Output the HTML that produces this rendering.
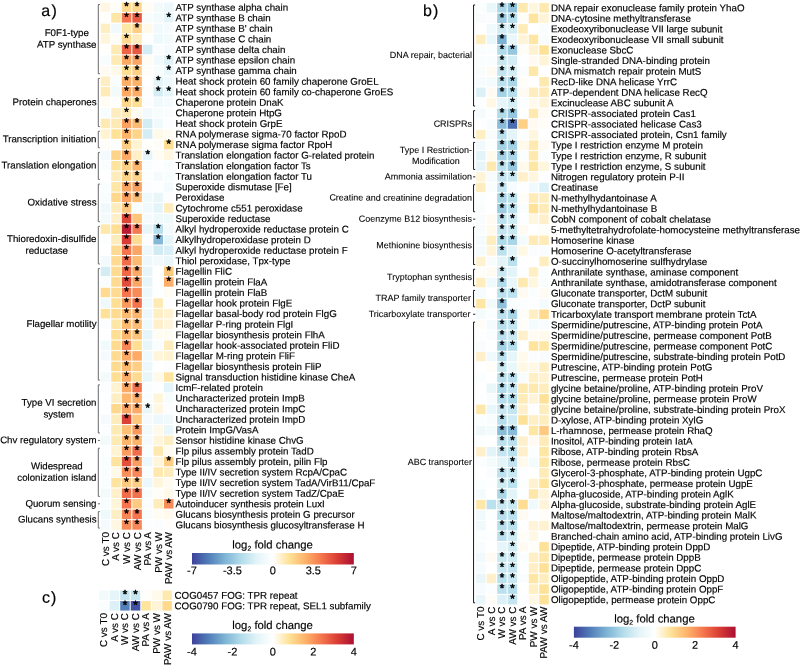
<!DOCTYPE html>
<html><head><meta charset="utf-8"><title>heatmap</title>
<style>html,body{margin:0;padding:0;background:#fff}svg{display:block;will-change:transform}text{font-family:"Liberation Sans",sans-serif;fill:#000;text-rendering:geometricPrecision;stroke:#000;stroke-width:0.16px}text.gb{stroke-width:0.08px}text.st{stroke-width:0.55px;stroke-linejoin:round}</style>
</head><body>
<svg width="800" height="666" viewBox="0 0 800 666">
<rect width="800" height="666" fill="#fff"/>
<rect x="100.70" y="2.50" width="9.5" height="9.5" fill="#fff7e1"/>
<rect x="111.25" y="2.50" width="9.5" height="9.5" fill="#fffdf8"/>
<rect x="121.80" y="2.50" width="9.5" height="9.5" fill="#fedb90"/>
<rect x="132.35" y="2.50" width="9.5" height="9.5" fill="#fed88d"/>
<rect x="142.90" y="2.50" width="9.5" height="9.5" fill="#fffcf4"/>
<rect x="153.45" y="2.50" width="9.5" height="9.5" fill="#f3fafc"/>
<rect x="164.00" y="2.50" width="9.5" height="9.5" fill="#ecf8fb"/>
<text x="126.55" y="10.10" font-size="11.5" text-anchor="middle" class="st" transform="rotate(0.035,126.55,10.10)">*</text>
<text x="137.10" y="10.10" font-size="11.5" text-anchor="middle" class="st" transform="rotate(0.035,137.10,10.10)">*</text>
<text x="175.55" y="10.65" font-size="9.78" transform="rotate(0.035,175.55,10.65)">ATP synthase alpha chain</text>
<rect x="100.70" y="13.06" width="9.5" height="9.5" fill="#fffefb"/>
<rect x="111.25" y="13.06" width="9.5" height="9.5" fill="#fee6a6"/>
<rect x="121.80" y="13.06" width="9.5" height="9.5" fill="#f5764e"/>
<rect x="132.35" y="13.06" width="9.5" height="9.5" fill="#e75941"/>
<rect x="142.90" y="13.06" width="9.5" height="9.5" fill="#f7fcfd"/>
<rect x="153.45" y="13.06" width="9.5" height="9.5" fill="#f3fafc"/>
<rect x="164.00" y="13.06" width="9.5" height="9.5" fill="#e4f5f9"/>
<text x="126.55" y="20.66" font-size="11.5" text-anchor="middle" class="st" transform="rotate(0.035,126.55,20.66)">*</text>
<text x="137.10" y="20.66" font-size="11.5" text-anchor="middle" class="st" transform="rotate(0.035,137.10,20.66)">*</text>
<text x="168.75" y="20.66" font-size="11.5" text-anchor="middle" class="st" transform="rotate(0.035,168.75,20.66)">*</text>
<text x="175.55" y="21.21" font-size="9.78" transform="rotate(0.035,175.55,21.21)">ATP synthase B chain</text>
<rect x="100.70" y="23.63" width="9.5" height="9.5" fill="#feeec3"/>
<rect x="111.25" y="23.63" width="9.5" height="9.5" fill="#f0f9fc"/>
<rect x="121.80" y="23.63" width="9.5" height="9.5" fill="#fee6a6"/>
<rect x="132.35" y="23.63" width="9.5" height="9.5" fill="#fece84"/>
<rect x="142.90" y="23.63" width="9.5" height="9.5" fill="#fff9e9"/>
<rect x="153.45" y="23.63" width="9.5" height="9.5" fill="#f0f9fc"/>
<rect x="164.00" y="23.63" width="9.5" height="9.5" fill="#f5fbfd"/>
<text x="137.10" y="31.23" font-size="11.5" text-anchor="middle" class="st" transform="rotate(0.035,137.10,31.23)">*</text>
<text x="175.55" y="31.78" font-size="9.78" transform="rotate(0.035,175.55,31.78)">ATP synthase B&#x27; chain</text>
<rect x="100.70" y="34.20" width="9.5" height="9.5" fill="#fff5da"/>
<rect x="111.25" y="34.20" width="9.5" height="9.5" fill="#fffdf8"/>
<rect x="121.80" y="34.20" width="9.5" height="9.5" fill="#fedb90"/>
<rect x="132.35" y="34.20" width="9.5" height="9.5" fill="#feecbc"/>
<rect x="142.90" y="34.20" width="9.5" height="9.5" fill="#fdfeff"/>
<rect x="153.45" y="34.20" width="9.5" height="9.5" fill="#eef9fb"/>
<rect x="164.00" y="34.20" width="9.5" height="9.5" fill="#f3fafc"/>
<text x="126.55" y="41.80" font-size="11.5" text-anchor="middle" class="st" transform="rotate(0.035,126.55,41.80)">*</text>
<text x="175.55" y="42.34" font-size="9.78" transform="rotate(0.035,175.55,42.34)">ATP synthase C chain</text>
<rect x="100.70" y="44.76" width="9.5" height="9.5" fill="#fffefb"/>
<rect x="111.25" y="44.76" width="9.5" height="9.5" fill="#feeab4"/>
<rect x="121.80" y="44.76" width="9.5" height="9.5" fill="#ed6547"/>
<rect x="132.35" y="44.76" width="9.5" height="9.5" fill="#e75941"/>
<rect x="142.90" y="44.76" width="9.5" height="9.5" fill="#d4edf4"/>
<rect x="153.45" y="44.76" width="9.5" height="9.5" fill="#f9fdfe"/>
<rect x="164.00" y="44.76" width="9.5" height="9.5" fill="#f5fbfd"/>
<text x="126.55" y="52.36" font-size="11.5" text-anchor="middle" class="st" transform="rotate(0.035,126.55,52.36)">*</text>
<text x="137.10" y="52.36" font-size="11.5" text-anchor="middle" class="st" transform="rotate(0.035,137.10,52.36)">*</text>
<text x="175.55" y="52.91" font-size="9.78" transform="rotate(0.035,175.55,52.91)">ATP synthase delta chain</text>
<rect x="100.70" y="55.32" width="9.5" height="9.5" fill="#f7fcfd"/>
<rect x="111.25" y="55.32" width="9.5" height="9.5" fill="#feeab4"/>
<rect x="121.80" y="55.32" width="9.5" height="9.5" fill="#fcaa66"/>
<rect x="132.35" y="55.32" width="9.5" height="9.5" fill="#fba664"/>
<rect x="142.90" y="55.32" width="9.5" height="9.5" fill="#fffcf4"/>
<rect x="153.45" y="55.32" width="9.5" height="9.5" fill="#f0f9fc"/>
<rect x="164.00" y="55.32" width="9.5" height="9.5" fill="#def2f7"/>
<text x="126.55" y="62.92" font-size="11.5" text-anchor="middle" class="st" transform="rotate(0.035,126.55,62.92)">*</text>
<text x="137.10" y="62.92" font-size="11.5" text-anchor="middle" class="st" transform="rotate(0.035,137.10,62.92)">*</text>
<text x="168.75" y="62.92" font-size="11.5" text-anchor="middle" class="st" transform="rotate(0.035,168.75,62.92)">*</text>
<text x="175.55" y="63.47" font-size="9.78" transform="rotate(0.035,175.55,63.47)">ATP synthase epsilon chain</text>
<rect x="100.70" y="65.89" width="9.5" height="9.5" fill="#fffbf0"/>
<rect x="111.25" y="65.89" width="9.5" height="9.5" fill="#fff9e9"/>
<rect x="121.80" y="65.89" width="9.5" height="9.5" fill="#fedf94"/>
<rect x="132.35" y="65.89" width="9.5" height="9.5" fill="#fed187"/>
<rect x="142.90" y="65.89" width="9.5" height="9.5" fill="#fffdf8"/>
<rect x="153.45" y="65.89" width="9.5" height="9.5" fill="#f7fcfd"/>
<rect x="164.00" y="65.89" width="9.5" height="9.5" fill="#eaf7fa"/>
<text x="126.55" y="73.49" font-size="11.5" text-anchor="middle" class="st" transform="rotate(0.035,126.55,73.49)">*</text>
<text x="137.10" y="73.49" font-size="11.5" text-anchor="middle" class="st" transform="rotate(0.035,137.10,73.49)">*</text>
<text x="168.75" y="73.49" font-size="11.5" text-anchor="middle" class="st" transform="rotate(0.035,168.75,73.49)">*</text>
<text x="175.55" y="74.04" font-size="9.78" transform="rotate(0.035,175.55,74.04)">ATP synthase gamma chain</text>
<rect x="100.70" y="76.45" width="9.5" height="9.5" fill="#feeec3"/>
<rect x="111.25" y="76.45" width="9.5" height="9.5" fill="#f9fdfe"/>
<rect x="121.80" y="76.45" width="9.5" height="9.5" fill="#fdae68"/>
<rect x="132.35" y="76.45" width="9.5" height="9.5" fill="#fdb36a"/>
<rect x="142.90" y="76.45" width="9.5" height="9.5" fill="#ffffff"/>
<rect x="153.45" y="76.45" width="9.5" height="9.5" fill="#e4f5f9"/>
<rect x="164.00" y="76.45" width="9.5" height="9.5" fill="#eef9fb"/>
<text x="126.55" y="84.05" font-size="11.5" text-anchor="middle" class="st" transform="rotate(0.035,126.55,84.05)">*</text>
<text x="137.10" y="84.05" font-size="11.5" text-anchor="middle" class="st" transform="rotate(0.035,137.10,84.05)">*</text>
<text x="158.20" y="84.05" font-size="11.5" text-anchor="middle" class="st" transform="rotate(0.035,158.20,84.05)">*</text>
<text x="175.55" y="84.61" font-size="9.78" transform="rotate(0.035,175.55,84.61)">Heat shock protein 60 family chaperone GroEL</text>
<rect x="100.70" y="87.02" width="9.5" height="9.5" fill="#feebb8"/>
<rect x="111.25" y="87.02" width="9.5" height="9.5" fill="#f3fafc"/>
<rect x="121.80" y="87.02" width="9.5" height="9.5" fill="#fcaa66"/>
<rect x="132.35" y="87.02" width="9.5" height="9.5" fill="#fdae68"/>
<rect x="142.90" y="87.02" width="9.5" height="9.5" fill="#fcfefe"/>
<rect x="153.45" y="87.02" width="9.5" height="9.5" fill="#d4edf4"/>
<rect x="164.00" y="87.02" width="9.5" height="9.5" fill="#e6f5f9"/>
<text x="126.55" y="94.62" font-size="11.5" text-anchor="middle" class="st" transform="rotate(0.035,126.55,94.62)">*</text>
<text x="137.10" y="94.62" font-size="11.5" text-anchor="middle" class="st" transform="rotate(0.035,137.10,94.62)">*</text>
<text x="158.20" y="94.62" font-size="11.5" text-anchor="middle" class="st" transform="rotate(0.035,158.20,94.62)">*</text>
<text x="168.75" y="94.62" font-size="11.5" text-anchor="middle" class="st" transform="rotate(0.035,168.75,94.62)">*</text>
<text x="175.55" y="95.17" font-size="9.78" transform="rotate(0.035,175.55,95.17)">Heat shock protein 60 family co-chaperone GroES</text>
<rect x="100.70" y="97.58" width="9.5" height="9.5" fill="#fffcf4"/>
<rect x="111.25" y="97.58" width="9.5" height="9.5" fill="#ffffff"/>
<rect x="121.80" y="97.58" width="9.5" height="9.5" fill="#fed88d"/>
<rect x="132.35" y="97.58" width="9.5" height="9.5" fill="#fedf94"/>
<rect x="142.90" y="97.58" width="9.5" height="9.5" fill="#fbfdfe"/>
<rect x="153.45" y="97.58" width="9.5" height="9.5" fill="#f0f9fc"/>
<rect x="164.00" y="97.58" width="9.5" height="9.5" fill="#f5fbfd"/>
<text x="126.55" y="105.18" font-size="11.5" text-anchor="middle" class="st" transform="rotate(0.035,126.55,105.18)">*</text>
<text x="137.10" y="105.18" font-size="11.5" text-anchor="middle" class="st" transform="rotate(0.035,137.10,105.18)">*</text>
<text x="175.55" y="105.73" font-size="9.78" transform="rotate(0.035,175.55,105.73)">Chaperone protein DnaK</text>
<rect x="100.70" y="108.15" width="9.5" height="9.5" fill="#f7fcfd"/>
<rect x="111.25" y="108.15" width="9.5" height="9.5" fill="#feedc0"/>
<rect x="121.80" y="108.15" width="9.5" height="9.5" fill="#feeab4"/>
<rect x="132.35" y="108.15" width="9.5" height="9.5" fill="#fffbf0"/>
<rect x="142.90" y="108.15" width="9.5" height="9.5" fill="#f3fafc"/>
<rect x="153.45" y="108.15" width="9.5" height="9.5" fill="#f7fcfd"/>
<rect x="164.00" y="108.15" width="9.5" height="9.5" fill="#f9fdfe"/>
<text x="126.55" y="115.75" font-size="11.5" text-anchor="middle" class="st" transform="rotate(0.035,126.55,115.75)">*</text>
<text x="175.55" y="116.30" font-size="9.78" transform="rotate(0.035,175.55,116.30)">Chaperone protein HtpG</text>
<rect x="100.70" y="118.71" width="9.5" height="9.5" fill="#feeab4"/>
<rect x="111.25" y="118.71" width="9.5" height="9.5" fill="#feeab4"/>
<rect x="121.80" y="118.71" width="9.5" height="9.5" fill="#fba162"/>
<rect x="132.35" y="118.71" width="9.5" height="9.5" fill="#fdba71"/>
<rect x="142.90" y="118.71" width="9.5" height="9.5" fill="#d4edf4"/>
<rect x="153.45" y="118.71" width="9.5" height="9.5" fill="#f0f9fc"/>
<rect x="164.00" y="118.71" width="9.5" height="9.5" fill="#fbfdfe"/>
<text x="126.55" y="126.31" font-size="11.5" text-anchor="middle" class="st" transform="rotate(0.035,126.55,126.31)">*</text>
<text x="137.10" y="126.31" font-size="11.5" text-anchor="middle" class="st" transform="rotate(0.035,137.10,126.31)">*</text>
<text x="175.55" y="126.86" font-size="9.78" transform="rotate(0.035,175.55,126.86)">Heat shock protein GrpE</text>
<rect x="100.70" y="129.28" width="9.5" height="9.5" fill="#fff3d2"/>
<rect x="111.25" y="129.28" width="9.5" height="9.5" fill="#fee297"/>
<rect x="121.80" y="129.28" width="9.5" height="9.5" fill="#fdb36a"/>
<rect x="132.35" y="129.28" width="9.5" height="9.5" fill="#fed48a"/>
<rect x="142.90" y="129.28" width="9.5" height="9.5" fill="#d4edf4"/>
<rect x="153.45" y="129.28" width="9.5" height="9.5" fill="#fff9e9"/>
<rect x="164.00" y="129.28" width="9.5" height="9.5" fill="#fffcf4"/>
<text x="126.55" y="136.88" font-size="11.5" text-anchor="middle" class="st" transform="rotate(0.035,126.55,136.88)">*</text>
<text x="175.55" y="137.43" font-size="9.78" transform="rotate(0.035,175.55,137.43)">RNA polymerase sigma-70 factor RpoD</text>
<rect x="100.70" y="139.84" width="9.5" height="9.5" fill="#fffdf8"/>
<rect x="111.25" y="139.84" width="9.5" height="9.5" fill="#fcfefe"/>
<rect x="121.80" y="139.84" width="9.5" height="9.5" fill="#fece84"/>
<rect x="132.35" y="139.84" width="9.5" height="9.5" fill="#fff3d2"/>
<rect x="142.90" y="139.84" width="9.5" height="9.5" fill="#fffefb"/>
<rect x="153.45" y="139.84" width="9.5" height="9.5" fill="#fffdf8"/>
<rect x="164.00" y="139.84" width="9.5" height="9.5" fill="#fedf94"/>
<text x="126.55" y="147.44" font-size="11.5" text-anchor="middle" class="st" transform="rotate(0.035,126.55,147.44)">*</text>
<text x="168.75" y="147.44" font-size="11.5" text-anchor="middle" class="st" transform="rotate(0.035,168.75,147.44)">*</text>
<text x="175.55" y="148.00" font-size="9.78" transform="rotate(0.035,175.55,148.00)">RNA polymerase sigma factor RpoH</text>
<rect x="100.70" y="150.41" width="9.5" height="9.5" fill="#f3fafc"/>
<rect x="111.25" y="150.41" width="9.5" height="9.5" fill="#fed48a"/>
<rect x="121.80" y="150.41" width="9.5" height="9.5" fill="#fcaa66"/>
<rect x="132.35" y="150.41" width="9.5" height="9.5" fill="#feefc7"/>
<rect x="142.90" y="150.41" width="9.5" height="9.5" fill="#e6f5f9"/>
<rect x="153.45" y="150.41" width="9.5" height="9.5" fill="#fffcf4"/>
<rect x="164.00" y="150.41" width="9.5" height="9.5" fill="#fff7e1"/>
<text x="126.55" y="158.01" font-size="11.5" text-anchor="middle" class="st" transform="rotate(0.035,126.55,158.01)">*</text>
<text x="147.65" y="158.01" font-size="11.5" text-anchor="middle" class="st" transform="rotate(0.035,147.65,158.01)">*</text>
<text x="175.55" y="158.56" font-size="9.78" transform="rotate(0.035,175.55,158.56)">Translation elongation factor G-related protein</text>
<rect x="100.70" y="160.97" width="9.5" height="9.5" fill="#f9fdfe"/>
<rect x="111.25" y="160.97" width="9.5" height="9.5" fill="#fee49e"/>
<rect x="121.80" y="160.97" width="9.5" height="9.5" fill="#fed187"/>
<rect x="132.35" y="160.97" width="9.5" height="9.5" fill="#fdb66e"/>
<rect x="142.90" y="160.97" width="9.5" height="9.5" fill="#f9fdfe"/>
<rect x="153.45" y="160.97" width="9.5" height="9.5" fill="#fdfeff"/>
<rect x="164.00" y="160.97" width="9.5" height="9.5" fill="#f9fdfe"/>
<text x="126.55" y="168.57" font-size="11.5" text-anchor="middle" class="st" transform="rotate(0.035,126.55,168.57)">*</text>
<text x="137.10" y="168.57" font-size="11.5" text-anchor="middle" class="st" transform="rotate(0.035,137.10,168.57)">*</text>
<text x="175.55" y="169.12" font-size="9.78" transform="rotate(0.035,175.55,169.12)">Translation elongation factor Ts</text>
<rect x="100.70" y="171.54" width="9.5" height="9.5" fill="#ffffff"/>
<rect x="111.25" y="171.54" width="9.5" height="9.5" fill="#feecbc"/>
<rect x="121.80" y="171.54" width="9.5" height="9.5" fill="#fed48a"/>
<rect x="132.35" y="171.54" width="9.5" height="9.5" fill="#fed48a"/>
<rect x="142.90" y="171.54" width="9.5" height="9.5" fill="#fcfefe"/>
<rect x="153.45" y="171.54" width="9.5" height="9.5" fill="#f5fbfd"/>
<rect x="164.00" y="171.54" width="9.5" height="9.5" fill="#f7fcfd"/>
<text x="126.55" y="179.14" font-size="11.5" text-anchor="middle" class="st" transform="rotate(0.035,126.55,179.14)">*</text>
<text x="137.10" y="179.14" font-size="11.5" text-anchor="middle" class="st" transform="rotate(0.035,137.10,179.14)">*</text>
<text x="175.55" y="179.69" font-size="9.78" transform="rotate(0.035,175.55,179.69)">Translation elongation factor Tu</text>
<rect x="100.70" y="182.10" width="9.5" height="9.5" fill="#f9fdfe"/>
<rect x="111.25" y="182.10" width="9.5" height="9.5" fill="#fee6a6"/>
<rect x="121.80" y="182.10" width="9.5" height="9.5" fill="#fba664"/>
<rect x="132.35" y="182.10" width="9.5" height="9.5" fill="#fba162"/>
<rect x="142.90" y="182.10" width="9.5" height="9.5" fill="#fbfdfe"/>
<rect x="153.45" y="182.10" width="9.5" height="9.5" fill="#fdfeff"/>
<rect x="164.00" y="182.10" width="9.5" height="9.5" fill="#f5fbfd"/>
<text x="126.55" y="189.70" font-size="11.5" text-anchor="middle" class="st" transform="rotate(0.035,126.55,189.70)">*</text>
<text x="137.10" y="189.70" font-size="11.5" text-anchor="middle" class="st" transform="rotate(0.035,137.10,189.70)">*</text>
<text x="175.55" y="190.25" font-size="9.78" transform="rotate(0.035,175.55,190.25)">Superoxide dismutase [Fe]</text>
<rect x="100.70" y="192.67" width="9.5" height="9.5" fill="#f7fcfd"/>
<rect x="111.25" y="192.67" width="9.5" height="9.5" fill="#fed88d"/>
<rect x="121.80" y="192.67" width="9.5" height="9.5" fill="#fba162"/>
<rect x="132.35" y="192.67" width="9.5" height="9.5" fill="#fdbd74"/>
<rect x="142.90" y="192.67" width="9.5" height="9.5" fill="#eef9fb"/>
<rect x="153.45" y="192.67" width="9.5" height="9.5" fill="#e8f6fa"/>
<rect x="164.00" y="192.67" width="9.5" height="9.5" fill="#fbfdfe"/>
<text x="126.55" y="200.27" font-size="11.5" text-anchor="middle" class="st" transform="rotate(0.035,126.55,200.27)">*</text>
<text x="137.10" y="200.27" font-size="11.5" text-anchor="middle" class="st" transform="rotate(0.035,137.10,200.27)">*</text>
<text x="175.55" y="200.82" font-size="9.78" transform="rotate(0.035,175.55,200.82)">Peroxidase</text>
<rect x="100.70" y="203.23" width="9.5" height="9.5" fill="#eef9fb"/>
<rect x="111.25" y="203.23" width="9.5" height="9.5" fill="#feecbc"/>
<rect x="121.80" y="203.23" width="9.5" height="9.5" fill="#fec77d"/>
<rect x="132.35" y="203.23" width="9.5" height="9.5" fill="#f9fdfe"/>
<rect x="142.90" y="203.23" width="9.5" height="9.5" fill="#f0f9fc"/>
<rect x="153.45" y="203.23" width="9.5" height="9.5" fill="#e4f5f9"/>
<rect x="164.00" y="203.23" width="9.5" height="9.5" fill="#feecbc"/>
<text x="126.55" y="210.83" font-size="11.5" text-anchor="middle" class="st" transform="rotate(0.035,126.55,210.83)">*</text>
<text x="175.55" y="211.38" font-size="9.78" transform="rotate(0.035,175.55,211.38)">Cytochrome c551 peroxidase</text>
<rect x="100.70" y="213.80" width="9.5" height="9.5" fill="#f3fafc"/>
<rect x="111.25" y="213.80" width="9.5" height="9.5" fill="#fff0cb"/>
<rect x="121.80" y="213.80" width="9.5" height="9.5" fill="#dd4538"/>
<rect x="132.35" y="213.80" width="9.5" height="9.5" fill="#fdc47a"/>
<rect x="142.90" y="213.80" width="9.5" height="9.5" fill="#f5fbfd"/>
<rect x="153.45" y="213.80" width="9.5" height="9.5" fill="#eef9fb"/>
<rect x="164.00" y="213.80" width="9.5" height="9.5" fill="#eef9fb"/>
<text x="126.55" y="221.40" font-size="11.5" text-anchor="middle" class="st" transform="rotate(0.035,126.55,221.40)">*</text>
<text x="175.55" y="221.95" font-size="9.78" transform="rotate(0.035,175.55,221.95)">Superoxide reductase</text>
<rect x="100.70" y="224.36" width="9.5" height="9.5" fill="#fee8ad"/>
<rect x="111.25" y="224.36" width="9.5" height="9.5" fill="#fedf94"/>
<rect x="121.80" y="224.36" width="9.5" height="9.5" fill="#b81c33"/>
<rect x="132.35" y="224.36" width="9.5" height="9.5" fill="#f57a50"/>
<rect x="142.90" y="224.36" width="9.5" height="9.5" fill="#e8f6fa"/>
<rect x="153.45" y="224.36" width="9.5" height="9.5" fill="#b7dfec"/>
<rect x="164.00" y="224.36" width="9.5" height="9.5" fill="#f3fafc"/>
<text x="126.55" y="231.96" font-size="11.5" text-anchor="middle" class="st" transform="rotate(0.035,126.55,231.96)">*</text>
<text x="137.10" y="231.96" font-size="11.5" text-anchor="middle" class="st" transform="rotate(0.035,137.10,231.96)">*</text>
<text x="158.20" y="231.96" font-size="11.5" text-anchor="middle" class="st" transform="rotate(0.035,158.20,231.96)">*</text>
<text x="175.55" y="232.51" font-size="9.78" transform="rotate(0.035,175.55,232.51)">Alkyl hydroperoxide reductase protein C</text>
<rect x="100.70" y="234.93" width="9.5" height="9.5" fill="#fcfefe"/>
<rect x="111.25" y="234.93" width="9.5" height="9.5" fill="#feecbc"/>
<rect x="121.80" y="234.93" width="9.5" height="9.5" fill="#d93c34"/>
<rect x="132.35" y="234.93" width="9.5" height="9.5" fill="#fedb90"/>
<rect x="142.90" y="234.93" width="9.5" height="9.5" fill="#fbfdfe"/>
<rect x="153.45" y="234.93" width="9.5" height="9.5" fill="#84b8d7"/>
<rect x="164.00" y="234.93" width="9.5" height="9.5" fill="#e6f5f9"/>
<text x="126.55" y="242.53" font-size="11.5" text-anchor="middle" class="st" transform="rotate(0.035,126.55,242.53)">*</text>
<text x="158.20" y="242.53" font-size="11.5" text-anchor="middle" class="st" transform="rotate(0.035,158.20,242.53)">*</text>
<text x="175.55" y="243.08" font-size="9.78" transform="rotate(0.035,175.55,243.08)">Alkylhydroperoxidase protein D</text>
<rect x="100.70" y="245.49" width="9.5" height="9.5" fill="#ffffff"/>
<rect x="111.25" y="245.49" width="9.5" height="9.5" fill="#fedb90"/>
<rect x="121.80" y="245.49" width="9.5" height="9.5" fill="#f5764e"/>
<rect x="132.35" y="245.49" width="9.5" height="9.5" fill="#fba664"/>
<rect x="142.90" y="245.49" width="9.5" height="9.5" fill="#ecf8fb"/>
<rect x="153.45" y="245.49" width="9.5" height="9.5" fill="#d0ebf3"/>
<rect x="164.00" y="245.49" width="9.5" height="9.5" fill="#dbf0f6"/>
<text x="126.55" y="253.09" font-size="11.5" text-anchor="middle" class="st" transform="rotate(0.035,126.55,253.09)">*</text>
<text x="175.55" y="253.64" font-size="9.78" transform="rotate(0.035,175.55,253.64)">Alkyl hydroperoxide reductase protein F</text>
<rect x="100.70" y="256.06" width="9.5" height="9.5" fill="#f3fafc"/>
<rect x="111.25" y="256.06" width="9.5" height="9.5" fill="#fedb90"/>
<rect x="121.80" y="256.06" width="9.5" height="9.5" fill="#f16e4b"/>
<rect x="132.35" y="256.06" width="9.5" height="9.5" fill="#fdba71"/>
<rect x="142.90" y="256.06" width="9.5" height="9.5" fill="#ecf8fb"/>
<rect x="153.45" y="256.06" width="9.5" height="9.5" fill="#f3fafc"/>
<rect x="164.00" y="256.06" width="9.5" height="9.5" fill="#eaf7fa"/>
<text x="126.55" y="263.66" font-size="11.5" text-anchor="middle" class="st" transform="rotate(0.035,126.55,263.66)">*</text>
<text x="175.55" y="264.21" font-size="9.78" transform="rotate(0.035,175.55,264.21)">Thiol peroxidase, Tpx-type</text>
<rect x="100.70" y="266.62" width="9.5" height="9.5" fill="#d4edf4"/>
<rect x="111.25" y="266.62" width="9.5" height="9.5" fill="#fedb90"/>
<rect x="121.80" y="266.62" width="9.5" height="9.5" fill="#ef6949"/>
<rect x="132.35" y="266.62" width="9.5" height="9.5" fill="#fcaa66"/>
<rect x="142.90" y="266.62" width="9.5" height="9.5" fill="#e6f5f9"/>
<rect x="153.45" y="266.62" width="9.5" height="9.5" fill="#ffffff"/>
<rect x="164.00" y="266.62" width="9.5" height="9.5" fill="#fec97f"/>
<text x="126.55" y="274.23" font-size="11.5" text-anchor="middle" class="st" transform="rotate(0.035,126.55,274.23)">*</text>
<text x="137.10" y="274.23" font-size="11.5" text-anchor="middle" class="st" transform="rotate(0.035,137.10,274.23)">*</text>
<text x="168.75" y="274.23" font-size="11.5" text-anchor="middle" class="st" transform="rotate(0.035,168.75,274.23)">*</text>
<text x="175.55" y="274.77" font-size="9.78" transform="rotate(0.035,175.55,274.77)">Flagellin FliC</text>
<rect x="100.70" y="277.19" width="9.5" height="9.5" fill="#f9fdfe"/>
<rect x="111.25" y="277.19" width="9.5" height="9.5" fill="#fedb90"/>
<rect x="121.80" y="277.19" width="9.5" height="9.5" fill="#e14d3b"/>
<rect x="132.35" y="277.19" width="9.5" height="9.5" fill="#fba664"/>
<rect x="142.90" y="277.19" width="9.5" height="9.5" fill="#e6f5f9"/>
<rect x="153.45" y="277.19" width="9.5" height="9.5" fill="#ffffff"/>
<rect x="164.00" y="277.19" width="9.5" height="9.5" fill="#fdae68"/>
<text x="126.55" y="284.79" font-size="11.5" text-anchor="middle" class="st" transform="rotate(0.035,126.55,284.79)">*</text>
<text x="137.10" y="284.79" font-size="11.5" text-anchor="middle" class="st" transform="rotate(0.035,137.10,284.79)">*</text>
<text x="168.75" y="284.79" font-size="11.5" text-anchor="middle" class="st" transform="rotate(0.035,168.75,284.79)">*</text>
<text x="175.55" y="285.34" font-size="9.78" transform="rotate(0.035,175.55,285.34)">Flagellin protein FlaA</text>
<rect x="100.70" y="287.75" width="9.5" height="9.5" fill="#fedb90"/>
<rect x="111.25" y="287.75" width="9.5" height="9.5" fill="#fedb90"/>
<rect x="121.80" y="287.75" width="9.5" height="9.5" fill="#f5764e"/>
<rect x="132.35" y="287.75" width="9.5" height="9.5" fill="#f88c58"/>
<rect x="142.90" y="287.75" width="9.5" height="9.5" fill="#ecf8fb"/>
<rect x="153.45" y="287.75" width="9.5" height="9.5" fill="#fdfeff"/>
<rect x="164.00" y="287.75" width="9.5" height="9.5" fill="#fffcf4"/>
<text x="126.55" y="295.36" font-size="11.5" text-anchor="middle" class="st" transform="rotate(0.035,126.55,295.36)">*</text>
<text x="175.55" y="295.90" font-size="9.78" transform="rotate(0.035,175.55,295.90)">Flagellin protein FlaB</text>
<rect x="100.70" y="298.32" width="9.5" height="9.5" fill="#eef9fb"/>
<rect x="111.25" y="298.32" width="9.5" height="9.5" fill="#fedf94"/>
<rect x="121.80" y="298.32" width="9.5" height="9.5" fill="#f9995e"/>
<rect x="132.35" y="298.32" width="9.5" height="9.5" fill="#f3724c"/>
<rect x="142.90" y="298.32" width="9.5" height="9.5" fill="#f0f9fc"/>
<rect x="153.45" y="298.32" width="9.5" height="9.5" fill="#feeab4"/>
<rect x="164.00" y="298.32" width="9.5" height="9.5" fill="#fdfeff"/>
<text x="126.55" y="305.92" font-size="11.5" text-anchor="middle" class="st" transform="rotate(0.035,126.55,305.92)">*</text>
<text x="137.10" y="305.92" font-size="11.5" text-anchor="middle" class="st" transform="rotate(0.035,137.10,305.92)">*</text>
<text x="175.55" y="306.47" font-size="9.78" transform="rotate(0.035,175.55,306.47)">Flagellar hook protein FlgE</text>
<rect x="100.70" y="308.88" width="9.5" height="9.5" fill="#fee297"/>
<rect x="111.25" y="308.88" width="9.5" height="9.5" fill="#fedb90"/>
<rect x="121.80" y="308.88" width="9.5" height="9.5" fill="#fdba71"/>
<rect x="132.35" y="308.88" width="9.5" height="9.5" fill="#fdb66e"/>
<rect x="142.90" y="308.88" width="9.5" height="9.5" fill="#ecf8fb"/>
<rect x="153.45" y="308.88" width="9.5" height="9.5" fill="#feeec3"/>
<rect x="164.00" y="308.88" width="9.5" height="9.5" fill="#fff3d2"/>
<text x="126.55" y="316.49" font-size="11.5" text-anchor="middle" class="st" transform="rotate(0.035,126.55,316.49)">*</text>
<text x="137.10" y="316.49" font-size="11.5" text-anchor="middle" class="st" transform="rotate(0.035,137.10,316.49)">*</text>
<text x="175.55" y="317.03" font-size="9.78" transform="rotate(0.035,175.55,317.03)">Flagellar basal-body rod protein FlgG</text>
<rect x="100.70" y="319.45" width="9.5" height="9.5" fill="#fbfdfe"/>
<rect x="111.25" y="319.45" width="9.5" height="9.5" fill="#fee6a6"/>
<rect x="121.80" y="319.45" width="9.5" height="9.5" fill="#fdba71"/>
<rect x="132.35" y="319.45" width="9.5" height="9.5" fill="#fdbd74"/>
<rect x="142.90" y="319.45" width="9.5" height="9.5" fill="#eef9fb"/>
<rect x="153.45" y="319.45" width="9.5" height="9.5" fill="#fff0cb"/>
<rect x="164.00" y="319.45" width="9.5" height="9.5" fill="#fff5da"/>
<text x="126.55" y="327.05" font-size="11.5" text-anchor="middle" class="st" transform="rotate(0.035,126.55,327.05)">*</text>
<text x="137.10" y="327.05" font-size="11.5" text-anchor="middle" class="st" transform="rotate(0.035,137.10,327.05)">*</text>
<text x="175.55" y="327.60" font-size="9.78" transform="rotate(0.035,175.55,327.60)">Flagellar P-ring protein FlgI</text>
<rect x="100.70" y="330.01" width="9.5" height="9.5" fill="#ffffff"/>
<rect x="111.25" y="330.01" width="9.5" height="9.5" fill="#fedf94"/>
<rect x="121.80" y="330.01" width="9.5" height="9.5" fill="#fdb66e"/>
<rect x="132.35" y="330.01" width="9.5" height="9.5" fill="#fdc47a"/>
<rect x="142.90" y="330.01" width="9.5" height="9.5" fill="#e6f5f9"/>
<rect x="153.45" y="330.01" width="9.5" height="9.5" fill="#fffcf4"/>
<rect x="164.00" y="330.01" width="9.5" height="9.5" fill="#fffcf4"/>
<text x="126.55" y="337.62" font-size="11.5" text-anchor="middle" class="st" transform="rotate(0.035,126.55,337.62)">*</text>
<text x="137.10" y="337.62" font-size="11.5" text-anchor="middle" class="st" transform="rotate(0.035,137.10,337.62)">*</text>
<text x="175.55" y="338.16" font-size="9.78" transform="rotate(0.035,175.55,338.16)">Flagellar biosynthesis protein FlhA</text>
<rect x="100.70" y="340.58" width="9.5" height="9.5" fill="#f0f9fc"/>
<rect x="111.25" y="340.58" width="9.5" height="9.5" fill="#fedb90"/>
<rect x="121.80" y="340.58" width="9.5" height="9.5" fill="#f78756"/>
<rect x="132.35" y="340.58" width="9.5" height="9.5" fill="#fedf94"/>
<rect x="142.90" y="340.58" width="9.5" height="9.5" fill="#e8f6fa"/>
<rect x="153.45" y="340.58" width="9.5" height="9.5" fill="#f9fdfe"/>
<rect x="164.00" y="340.58" width="9.5" height="9.5" fill="#feecbc"/>
<text x="126.55" y="348.18" font-size="11.5" text-anchor="middle" class="st" transform="rotate(0.035,126.55,348.18)">*</text>
<text x="175.55" y="348.73" font-size="9.78" transform="rotate(0.035,175.55,348.73)">Flagellar hook-associated protein FliD</text>
<rect x="100.70" y="351.14" width="9.5" height="9.5" fill="#f5fbfd"/>
<rect x="111.25" y="351.14" width="9.5" height="9.5" fill="#fedb90"/>
<rect x="121.80" y="351.14" width="9.5" height="9.5" fill="#fcaa66"/>
<rect x="132.35" y="351.14" width="9.5" height="9.5" fill="#fcaa66"/>
<rect x="142.90" y="351.14" width="9.5" height="9.5" fill="#eef9fb"/>
<rect x="153.45" y="351.14" width="9.5" height="9.5" fill="#fff5da"/>
<rect x="164.00" y="351.14" width="9.5" height="9.5" fill="#fff3d2"/>
<text x="126.55" y="358.75" font-size="11.5" text-anchor="middle" class="st" transform="rotate(0.035,126.55,358.75)">*</text>
<text x="175.55" y="359.29" font-size="9.78" transform="rotate(0.035,175.55,359.29)">Flagellar M-ring protein FliF</text>
<rect x="100.70" y="361.71" width="9.5" height="9.5" fill="#fdfeff"/>
<rect x="111.25" y="361.71" width="9.5" height="9.5" fill="#fedb90"/>
<rect x="121.80" y="361.71" width="9.5" height="9.5" fill="#fdba71"/>
<rect x="132.35" y="361.71" width="9.5" height="9.5" fill="#fece84"/>
<rect x="142.90" y="361.71" width="9.5" height="9.5" fill="#ecf8fb"/>
<rect x="153.45" y="361.71" width="9.5" height="9.5" fill="#ffffff"/>
<rect x="164.00" y="361.71" width="9.5" height="9.5" fill="#fbfdfe"/>
<text x="126.55" y="369.31" font-size="11.5" text-anchor="middle" class="st" transform="rotate(0.035,126.55,369.31)">*</text>
<text x="175.55" y="369.86" font-size="9.78" transform="rotate(0.035,175.55,369.86)">Flagellar biosynthesis protein FliP</text>
<rect x="100.70" y="372.27" width="9.5" height="9.5" fill="#f3fafc"/>
<rect x="111.25" y="372.27" width="9.5" height="9.5" fill="#fedf94"/>
<rect x="121.80" y="372.27" width="9.5" height="9.5" fill="#fdae68"/>
<rect x="132.35" y="372.27" width="9.5" height="9.5" fill="#fedb90"/>
<rect x="142.90" y="372.27" width="9.5" height="9.5" fill="#e8f6fa"/>
<rect x="153.45" y="372.27" width="9.5" height="9.5" fill="#fff9e9"/>
<rect x="164.00" y="372.27" width="9.5" height="9.5" fill="#fee49e"/>
<text x="126.55" y="379.88" font-size="11.5" text-anchor="middle" class="st" transform="rotate(0.035,126.55,379.88)">*</text>
<text x="175.55" y="380.42" font-size="9.78" transform="rotate(0.035,175.55,380.42)">Signal transduction histidine kinase CheA</text>
<rect x="100.70" y="382.84" width="9.5" height="9.5" fill="#fbfdfe"/>
<rect x="111.25" y="382.84" width="9.5" height="9.5" fill="#fff3d2"/>
<rect x="121.80" y="382.84" width="9.5" height="9.5" fill="#fcaa66"/>
<rect x="132.35" y="382.84" width="9.5" height="9.5" fill="#f3724c"/>
<rect x="142.90" y="382.84" width="9.5" height="9.5" fill="#f9fdfe"/>
<rect x="153.45" y="382.84" width="9.5" height="9.5" fill="#fdfeff"/>
<rect x="164.00" y="382.84" width="9.5" height="9.5" fill="#e4f5f9"/>
<text x="126.55" y="390.44" font-size="11.5" text-anchor="middle" class="st" transform="rotate(0.035,126.55,390.44)">*</text>
<text x="137.10" y="390.44" font-size="11.5" text-anchor="middle" class="st" transform="rotate(0.035,137.10,390.44)">*</text>
<text x="175.55" y="390.99" font-size="9.78" transform="rotate(0.035,175.55,390.99)">IcmF-related protein</text>
<rect x="100.70" y="393.40" width="9.5" height="9.5" fill="#fdfeff"/>
<rect x="111.25" y="393.40" width="9.5" height="9.5" fill="#feeec3"/>
<rect x="121.80" y="393.40" width="9.5" height="9.5" fill="#fdb66e"/>
<rect x="132.35" y="393.40" width="9.5" height="9.5" fill="#fdae68"/>
<rect x="142.90" y="393.40" width="9.5" height="9.5" fill="#f9fdfe"/>
<rect x="153.45" y="393.40" width="9.5" height="9.5" fill="#fff5da"/>
<rect x="164.00" y="393.40" width="9.5" height="9.5" fill="#f7fcfd"/>
<text x="137.10" y="401.00" font-size="11.5" text-anchor="middle" class="st" transform="rotate(0.035,137.10,401.00)">*</text>
<text x="175.55" y="401.55" font-size="9.78" transform="rotate(0.035,175.55,401.55)">Uncharacterized protein ImpB</text>
<rect x="100.70" y="403.97" width="9.5" height="9.5" fill="#fdfeff"/>
<rect x="111.25" y="403.97" width="9.5" height="9.5" fill="#fed88d"/>
<rect x="121.80" y="403.97" width="9.5" height="9.5" fill="#fba664"/>
<rect x="132.35" y="403.97" width="9.5" height="9.5" fill="#fcaa66"/>
<rect x="142.90" y="403.97" width="9.5" height="9.5" fill="#eaf7fa"/>
<rect x="153.45" y="403.97" width="9.5" height="9.5" fill="#fff7e1"/>
<rect x="164.00" y="403.97" width="9.5" height="9.5" fill="#fbfdfe"/>
<text x="126.55" y="411.57" font-size="11.5" text-anchor="middle" class="st" transform="rotate(0.035,126.55,411.57)">*</text>
<text x="137.10" y="411.57" font-size="11.5" text-anchor="middle" class="st" transform="rotate(0.035,137.10,411.57)">*</text>
<text x="147.65" y="411.57" font-size="11.5" text-anchor="middle" class="st" transform="rotate(0.035,147.65,411.57)">*</text>
<text x="175.55" y="412.12" font-size="9.78" transform="rotate(0.035,175.55,412.12)">Uncharacterized protein ImpC</text>
<rect x="100.70" y="414.53" width="9.5" height="9.5" fill="#f5fbfd"/>
<rect x="111.25" y="414.53" width="9.5" height="9.5" fill="#feecbc"/>
<rect x="121.80" y="414.53" width="9.5" height="9.5" fill="#db4136"/>
<rect x="132.35" y="414.53" width="9.5" height="9.5" fill="#fec77d"/>
<rect x="142.90" y="414.53" width="9.5" height="9.5" fill="#f5fbfd"/>
<rect x="153.45" y="414.53" width="9.5" height="9.5" fill="#ecf8fb"/>
<rect x="164.00" y="414.53" width="9.5" height="9.5" fill="#f0f9fc"/>
<text x="126.55" y="422.13" font-size="11.5" text-anchor="middle" class="st" transform="rotate(0.035,126.55,422.13)">*</text>
<text x="175.55" y="422.68" font-size="9.78" transform="rotate(0.035,175.55,422.68)">Uncharacterized protein ImpD</text>
<rect x="100.70" y="425.10" width="9.5" height="9.5" fill="#fbfdfe"/>
<rect x="111.25" y="425.10" width="9.5" height="9.5" fill="#feeab4"/>
<rect x="121.80" y="425.10" width="9.5" height="9.5" fill="#fdc077"/>
<rect x="132.35" y="425.10" width="9.5" height="9.5" fill="#f9995e"/>
<rect x="142.90" y="425.10" width="9.5" height="9.5" fill="#f3fafc"/>
<rect x="153.45" y="425.10" width="9.5" height="9.5" fill="#fff9e9"/>
<rect x="164.00" y="425.10" width="9.5" height="9.5" fill="#eaf7fa"/>
<text x="137.10" y="432.70" font-size="11.5" text-anchor="middle" class="st" transform="rotate(0.035,137.10,432.70)">*</text>
<text x="175.55" y="433.25" font-size="9.78" transform="rotate(0.035,175.55,433.25)">Protein ImpG/VasA</text>
<rect x="100.70" y="435.66" width="9.5" height="9.5" fill="#f3fafc"/>
<rect x="111.25" y="435.66" width="9.5" height="9.5" fill="#feeab4"/>
<rect x="121.80" y="435.66" width="9.5" height="9.5" fill="#fdb66e"/>
<rect x="132.35" y="435.66" width="9.5" height="9.5" fill="#fdb36a"/>
<rect x="142.90" y="435.66" width="9.5" height="9.5" fill="#f5fbfd"/>
<rect x="153.45" y="435.66" width="9.5" height="9.5" fill="#fff5da"/>
<rect x="164.00" y="435.66" width="9.5" height="9.5" fill="#feeec3"/>
<text x="126.55" y="443.26" font-size="11.5" text-anchor="middle" class="st" transform="rotate(0.035,126.55,443.26)">*</text>
<text x="137.10" y="443.26" font-size="11.5" text-anchor="middle" class="st" transform="rotate(0.035,137.10,443.26)">*</text>
<text x="175.55" y="443.81" font-size="9.78" transform="rotate(0.035,175.55,443.81)">Sensor histidine kinase ChvG</text>
<rect x="100.70" y="446.23" width="9.5" height="9.5" fill="#fdfeff"/>
<rect x="111.25" y="446.23" width="9.5" height="9.5" fill="#fff3d2"/>
<rect x="121.80" y="446.23" width="9.5" height="9.5" fill="#fa9d60"/>
<rect x="132.35" y="446.23" width="9.5" height="9.5" fill="#f16e4b"/>
<rect x="142.90" y="446.23" width="9.5" height="9.5" fill="#f9fdfe"/>
<rect x="153.45" y="446.23" width="9.5" height="9.5" fill="#fee8ad"/>
<rect x="164.00" y="446.23" width="9.5" height="9.5" fill="#fffbf0"/>
<text x="126.55" y="453.83" font-size="11.5" text-anchor="middle" class="st" transform="rotate(0.035,126.55,453.83)">*</text>
<text x="137.10" y="453.83" font-size="11.5" text-anchor="middle" class="st" transform="rotate(0.035,137.10,453.83)">*</text>
<text x="175.55" y="454.38" font-size="9.78" transform="rotate(0.035,175.55,454.38)">Flp pilus assembly protein TadD</text>
<rect x="100.70" y="456.79" width="9.5" height="9.5" fill="#f9fdfe"/>
<rect x="111.25" y="456.79" width="9.5" height="9.5" fill="#fee49e"/>
<rect x="121.80" y="456.79" width="9.5" height="9.5" fill="#e3513d"/>
<rect x="132.35" y="456.79" width="9.5" height="9.5" fill="#fa9d60"/>
<rect x="142.90" y="456.79" width="9.5" height="9.5" fill="#ecf8fb"/>
<rect x="153.45" y="456.79" width="9.5" height="9.5" fill="#fff5da"/>
<rect x="164.00" y="456.79" width="9.5" height="9.5" fill="#fece84"/>
<text x="126.55" y="464.39" font-size="11.5" text-anchor="middle" class="st" transform="rotate(0.035,126.55,464.39)">*</text>
<text x="137.10" y="464.39" font-size="11.5" text-anchor="middle" class="st" transform="rotate(0.035,137.10,464.39)">*</text>
<text x="168.75" y="464.39" font-size="11.5" text-anchor="middle" class="st" transform="rotate(0.035,168.75,464.39)">*</text>
<text x="175.55" y="464.94" font-size="9.78" transform="rotate(0.035,175.55,464.94)">Flp pilus assembly protein, pilin Flp</text>
<rect x="100.70" y="467.36" width="9.5" height="9.5" fill="#f9fdfe"/>
<rect x="111.25" y="467.36" width="9.5" height="9.5" fill="#fff9e9"/>
<rect x="121.80" y="467.36" width="9.5" height="9.5" fill="#f8905a"/>
<rect x="132.35" y="467.36" width="9.5" height="9.5" fill="#f78756"/>
<rect x="142.90" y="467.36" width="9.5" height="9.5" fill="#f9fdfe"/>
<rect x="153.45" y="467.36" width="9.5" height="9.5" fill="#fee8ad"/>
<rect x="164.00" y="467.36" width="9.5" height="9.5" fill="#feecbc"/>
<text x="126.55" y="474.96" font-size="11.5" text-anchor="middle" class="st" transform="rotate(0.035,126.55,474.96)">*</text>
<text x="137.10" y="474.96" font-size="11.5" text-anchor="middle" class="st" transform="rotate(0.035,137.10,474.96)">*</text>
<text x="175.55" y="475.51" font-size="9.78" transform="rotate(0.035,175.55,475.51)">Type II/IV secretion system RcpA/CpaC</text>
<rect x="100.70" y="477.92" width="9.5" height="9.5" fill="#f9fdfe"/>
<rect x="111.25" y="477.92" width="9.5" height="9.5" fill="#fee49e"/>
<rect x="121.80" y="477.92" width="9.5" height="9.5" fill="#feca81"/>
<rect x="132.35" y="477.92" width="9.5" height="9.5" fill="#fece84"/>
<rect x="142.90" y="477.92" width="9.5" height="9.5" fill="#ecf8fb"/>
<rect x="153.45" y="477.92" width="9.5" height="9.5" fill="#fff5da"/>
<rect x="164.00" y="477.92" width="9.5" height="9.5" fill="#fffbf0"/>
<text x="126.55" y="485.52" font-size="11.5" text-anchor="middle" class="st" transform="rotate(0.035,126.55,485.52)">*</text>
<text x="137.10" y="485.52" font-size="11.5" text-anchor="middle" class="st" transform="rotate(0.035,137.10,485.52)">*</text>
<text x="175.55" y="486.07" font-size="9.78" transform="rotate(0.035,175.55,486.07)">Type II/IV secretion system TadA/VirB11/CpaF</text>
<rect x="100.70" y="488.49" width="9.5" height="9.5" fill="#f3fafc"/>
<rect x="111.25" y="488.49" width="9.5" height="9.5" fill="#fff0cb"/>
<rect x="121.80" y="488.49" width="9.5" height="9.5" fill="#f16e4b"/>
<rect x="132.35" y="488.49" width="9.5" height="9.5" fill="#f3724c"/>
<rect x="142.90" y="488.49" width="9.5" height="9.5" fill="#f7fcfd"/>
<rect x="153.45" y="488.49" width="9.5" height="9.5" fill="#fffdf8"/>
<rect x="164.00" y="488.49" width="9.5" height="9.5" fill="#fff9e9"/>
<text x="126.55" y="496.09" font-size="11.5" text-anchor="middle" class="st" transform="rotate(0.035,126.55,496.09)">*</text>
<text x="137.10" y="496.09" font-size="11.5" text-anchor="middle" class="st" transform="rotate(0.035,137.10,496.09)">*</text>
<text x="175.55" y="496.64" font-size="9.78" transform="rotate(0.035,175.55,496.64)">Type II/IV secretion system TadZ/CpaE</text>
<rect x="100.70" y="499.05" width="9.5" height="9.5" fill="#f7fcfd"/>
<rect x="111.25" y="499.05" width="9.5" height="9.5" fill="#fff5da"/>
<rect x="121.80" y="499.05" width="9.5" height="9.5" fill="#f5764e"/>
<rect x="132.35" y="499.05" width="9.5" height="9.5" fill="#feca81"/>
<rect x="142.90" y="499.05" width="9.5" height="9.5" fill="#f9fdfe"/>
<rect x="153.45" y="499.05" width="9.5" height="9.5" fill="#feecbc"/>
<rect x="164.00" y="499.05" width="9.5" height="9.5" fill="#f88c58"/>
<text x="126.55" y="506.65" font-size="11.5" text-anchor="middle" class="st" transform="rotate(0.035,126.55,506.65)">*</text>
<text x="168.75" y="506.65" font-size="11.5" text-anchor="middle" class="st" transform="rotate(0.035,168.75,506.65)">*</text>
<text x="175.55" y="507.20" font-size="9.78" transform="rotate(0.035,175.55,507.20)">Autoinducer synthesis protein LuxI</text>
<rect x="100.70" y="509.62" width="9.5" height="9.5" fill="#eef9fb"/>
<rect x="111.25" y="509.62" width="9.5" height="9.5" fill="#feeec3"/>
<rect x="121.80" y="509.62" width="9.5" height="9.5" fill="#f78756"/>
<rect x="132.35" y="509.62" width="9.5" height="9.5" fill="#f5764e"/>
<rect x="142.90" y="509.62" width="9.5" height="9.5" fill="#f7fcfd"/>
<rect x="153.45" y="509.62" width="9.5" height="9.5" fill="#fffcf4"/>
<rect x="164.00" y="509.62" width="9.5" height="9.5" fill="#fffaec"/>
<text x="126.55" y="517.22" font-size="11.5" text-anchor="middle" class="st" transform="rotate(0.035,126.55,517.22)">*</text>
<text x="137.10" y="517.22" font-size="11.5" text-anchor="middle" class="st" transform="rotate(0.035,137.10,517.22)">*</text>
<text x="175.55" y="517.77" font-size="9.78" transform="rotate(0.035,175.55,517.77)">Glucans biosynthesis protein G precursor</text>
<rect x="100.70" y="520.18" width="9.5" height="9.5" fill="#f5fbfd"/>
<rect x="111.25" y="520.18" width="9.5" height="9.5" fill="#fff7e1"/>
<rect x="121.80" y="520.18" width="9.5" height="9.5" fill="#f88c58"/>
<rect x="132.35" y="520.18" width="9.5" height="9.5" fill="#f78756"/>
<rect x="142.90" y="520.18" width="9.5" height="9.5" fill="#fbfdfe"/>
<rect x="153.45" y="520.18" width="9.5" height="9.5" fill="#fbfdfe"/>
<rect x="164.00" y="520.18" width="9.5" height="9.5" fill="#fffefb"/>
<text x="126.55" y="527.78" font-size="11.5" text-anchor="middle" class="st" transform="rotate(0.035,126.55,527.78)">*</text>
<text x="137.10" y="527.78" font-size="11.5" text-anchor="middle" class="st" transform="rotate(0.035,137.10,527.78)">*</text>
<text x="175.55" y="528.33" font-size="9.78" transform="rotate(0.035,175.55,528.33)">Glucans biosynthesis glucosyltransferase H</text>
<text transform="translate(108.85,532.00) rotate(-90)" font-size="9.95" text-anchor="end">C vs T0</text>
<text transform="translate(119.40,532.00) rotate(-90)" font-size="9.95" text-anchor="end">A vs C</text>
<text transform="translate(129.95,532.00) rotate(-90)" font-size="9.95" text-anchor="end">W vs C</text>
<text transform="translate(140.50,532.00) rotate(-90)" font-size="9.95" text-anchor="end">AW vs C</text>
<text transform="translate(151.05,532.00) rotate(-90)" font-size="9.95" text-anchor="end">PA vs A</text>
<text transform="translate(161.60,532.00) rotate(-90)" font-size="9.95" text-anchor="end">PW vs W</text>
<text transform="translate(172.15,532.00) rotate(-90)" font-size="9.95" text-anchor="end">PAW vs AW</text>
<rect x="476.10" y="3.00" width="9.5" height="9.5" fill="#fbfefe"/>
<rect x="486.63" y="3.00" width="9.5" height="9.5" fill="#e9f7fa"/>
<rect x="497.16" y="3.00" width="9.5" height="9.5" fill="#aad6e8"/>
<rect x="507.69" y="3.00" width="9.5" height="9.5" fill="#90c1dc"/>
<rect x="518.22" y="3.00" width="9.5" height="9.5" fill="#fee9b1"/>
<rect x="528.75" y="3.00" width="9.5" height="9.5" fill="#fff6de"/>
<rect x="539.28" y="3.00" width="9.5" height="9.5" fill="#fee9b1"/>
<text x="501.91" y="10.60" font-size="11.5" text-anchor="middle" class="st" transform="rotate(0.035,501.91,10.60)">*</text>
<text x="512.44" y="10.60" font-size="11.5" text-anchor="middle" class="st" transform="rotate(0.035,512.44,10.60)">*</text>
<text x="550.90" y="11.15" font-size="9.78" transform="rotate(0.035,550.90,11.15)">DNA repair exonuclease family protein YhaO</text>
<rect x="476.10" y="13.57" width="9.5" height="9.5" fill="#f8fcfd"/>
<rect x="486.63" y="13.57" width="9.5" height="9.5" fill="#fafdfe"/>
<rect x="497.16" y="13.57" width="9.5" height="9.5" fill="#9dcce2"/>
<rect x="507.69" y="13.57" width="9.5" height="9.5" fill="#b6deec"/>
<rect x="518.22" y="13.57" width="9.5" height="9.5" fill="#fffdf8"/>
<rect x="528.75" y="13.57" width="9.5" height="9.5" fill="#fee49d"/>
<rect x="539.28" y="13.57" width="9.5" height="9.5" fill="#fff4d8"/>
<text x="501.91" y="21.17" font-size="11.5" text-anchor="middle" class="st" transform="rotate(0.035,501.91,21.17)">*</text>
<text x="512.44" y="21.17" font-size="11.5" text-anchor="middle" class="st" transform="rotate(0.035,512.44,21.17)">*</text>
<text x="550.90" y="21.72" font-size="9.78" transform="rotate(0.035,550.90,21.72)">DNA-cytosine methyltransferase</text>
<rect x="476.10" y="24.14" width="9.5" height="9.5" fill="#ffffff"/>
<rect x="486.63" y="24.14" width="9.5" height="9.5" fill="#f0f9fc"/>
<rect x="497.16" y="24.14" width="9.5" height="9.5" fill="#cfebf3"/>
<rect x="507.69" y="24.14" width="9.5" height="9.5" fill="#d5eef5"/>
<rect x="518.22" y="24.14" width="9.5" height="9.5" fill="#feebb7"/>
<rect x="528.75" y="24.14" width="9.5" height="9.5" fill="#ffffff"/>
<rect x="539.28" y="24.14" width="9.5" height="9.5" fill="#fafdfe"/>
<text x="501.91" y="31.74" font-size="11.5" text-anchor="middle" class="st" transform="rotate(0.035,501.91,31.74)">*</text>
<text x="512.44" y="31.74" font-size="11.5" text-anchor="middle" class="st" transform="rotate(0.035,512.44,31.74)">*</text>
<text x="550.90" y="32.29" font-size="9.78" transform="rotate(0.035,550.90,32.29)">Exodeoxyribonuclease VII large subunit</text>
<rect x="476.10" y="34.71" width="9.5" height="9.5" fill="#feedbe"/>
<rect x="486.63" y="34.71" width="9.5" height="9.5" fill="#e9f7fa"/>
<rect x="497.16" y="34.71" width="9.5" height="9.5" fill="#7cb2d4"/>
<rect x="507.69" y="34.71" width="9.5" height="9.5" fill="#e9f7fa"/>
<rect x="518.22" y="34.71" width="9.5" height="9.5" fill="#fff4d8"/>
<rect x="528.75" y="34.71" width="9.5" height="9.5" fill="#fee6a4"/>
<rect x="539.28" y="34.71" width="9.5" height="9.5" fill="#f8fcfd"/>
<text x="501.91" y="42.31" font-size="11.5" text-anchor="middle" class="st" transform="rotate(0.035,501.91,42.31)">*</text>
<text x="550.90" y="42.86" font-size="9.78" transform="rotate(0.035,550.90,42.86)">Exodeoxyribonuclease VII small subunit</text>
<rect x="476.10" y="45.28" width="9.5" height="9.5" fill="#fafdfe"/>
<rect x="486.63" y="45.28" width="9.5" height="9.5" fill="#fbfefe"/>
<rect x="497.16" y="45.28" width="9.5" height="9.5" fill="#b0dbea"/>
<rect x="507.69" y="45.28" width="9.5" height="9.5" fill="#96c7df"/>
<rect x="518.22" y="45.28" width="9.5" height="9.5" fill="#fffdf8"/>
<rect x="528.75" y="45.28" width="9.5" height="9.5" fill="#fff2d1"/>
<rect x="539.28" y="45.28" width="9.5" height="9.5" fill="#fee297"/>
<text x="501.91" y="52.88" font-size="11.5" text-anchor="middle" class="st" transform="rotate(0.035,501.91,52.88)">*</text>
<text x="512.44" y="52.88" font-size="11.5" text-anchor="middle" class="st" transform="rotate(0.035,512.44,52.88)">*</text>
<text x="550.90" y="53.43" font-size="9.78" transform="rotate(0.035,550.90,53.43)">Exonuclease SbcC</text>
<rect x="476.10" y="55.85" width="9.5" height="9.5" fill="#fafdfe"/>
<rect x="486.63" y="55.85" width="9.5" height="9.5" fill="#fafdfe"/>
<rect x="497.16" y="55.85" width="9.5" height="9.5" fill="#c9e8f1"/>
<rect x="507.69" y="55.85" width="9.5" height="9.5" fill="#d5eef5"/>
<rect x="518.22" y="55.85" width="9.5" height="9.5" fill="#fdfeff"/>
<rect x="528.75" y="55.85" width="9.5" height="9.5" fill="#fffbf2"/>
<rect x="539.28" y="55.85" width="9.5" height="9.5" fill="#fff4d8"/>
<text x="501.91" y="63.45" font-size="11.5" text-anchor="middle" class="st" transform="rotate(0.035,501.91,63.45)">*</text>
<text x="550.90" y="64.00" font-size="9.78" transform="rotate(0.035,550.90,64.00)">Single-stranded DNA-binding protein</text>
<rect x="476.10" y="66.42" width="9.5" height="9.5" fill="#f8fcfd"/>
<rect x="486.63" y="66.42" width="9.5" height="9.5" fill="#fffbf2"/>
<rect x="497.16" y="66.42" width="9.5" height="9.5" fill="#c3e4f0"/>
<rect x="507.69" y="66.42" width="9.5" height="9.5" fill="#d5eef5"/>
<rect x="518.22" y="66.42" width="9.5" height="9.5" fill="#fafdfe"/>
<rect x="528.75" y="66.42" width="9.5" height="9.5" fill="#fee7aa"/>
<rect x="539.28" y="66.42" width="9.5" height="9.5" fill="#ffffff"/>
<text x="501.91" y="74.02" font-size="11.5" text-anchor="middle" class="st" transform="rotate(0.035,501.91,74.02)">*</text>
<text x="512.44" y="74.02" font-size="11.5" text-anchor="middle" class="st" transform="rotate(0.035,512.44,74.02)">*</text>
<text x="550.90" y="74.57" font-size="9.78" transform="rotate(0.035,550.90,74.57)">DNA mismatch repair protein MutS</text>
<rect x="476.10" y="76.99" width="9.5" height="9.5" fill="#f6fbfd"/>
<rect x="486.63" y="76.99" width="9.5" height="9.5" fill="#f4fbfd"/>
<rect x="497.16" y="76.99" width="9.5" height="9.5" fill="#bce1ee"/>
<rect x="507.69" y="76.99" width="9.5" height="9.5" fill="#aad6e8"/>
<rect x="518.22" y="76.99" width="9.5" height="9.5" fill="#fffdf8"/>
<rect x="528.75" y="76.99" width="9.5" height="9.5" fill="#ffffff"/>
<rect x="539.28" y="76.99" width="9.5" height="9.5" fill="#fee9b1"/>
<text x="501.91" y="84.59" font-size="11.5" text-anchor="middle" class="st" transform="rotate(0.035,501.91,84.59)">*</text>
<text x="512.44" y="84.59" font-size="11.5" text-anchor="middle" class="st" transform="rotate(0.035,512.44,84.59)">*</text>
<text x="550.90" y="85.14" font-size="9.78" transform="rotate(0.035,550.90,85.14)">RecD-like DNA helicase YrrC</text>
<rect x="476.10" y="87.56" width="9.5" height="9.5" fill="#dcf1f7"/>
<rect x="486.63" y="87.56" width="9.5" height="9.5" fill="#fffbf2"/>
<rect x="497.16" y="87.56" width="9.5" height="9.5" fill="#a3d1e5"/>
<rect x="507.69" y="87.56" width="9.5" height="9.5" fill="#b6deec"/>
<rect x="518.22" y="87.56" width="9.5" height="9.5" fill="#fffbf2"/>
<rect x="528.75" y="87.56" width="9.5" height="9.5" fill="#feedbe"/>
<rect x="539.28" y="87.56" width="9.5" height="9.5" fill="#feebb7"/>
<text x="501.91" y="95.16" font-size="11.5" text-anchor="middle" class="st" transform="rotate(0.035,501.91,95.16)">*</text>
<text x="512.44" y="95.16" font-size="11.5" text-anchor="middle" class="st" transform="rotate(0.035,512.44,95.16)">*</text>
<text x="550.90" y="95.71" font-size="9.78" transform="rotate(0.035,550.90,95.71)">ATP-dependent DNA helicase RecQ</text>
<rect x="476.10" y="98.13" width="9.5" height="9.5" fill="#fdfeff"/>
<rect x="486.63" y="98.13" width="9.5" height="9.5" fill="#fff8e5"/>
<rect x="497.16" y="98.13" width="9.5" height="9.5" fill="#e6f5f9"/>
<rect x="507.69" y="98.13" width="9.5" height="9.5" fill="#d5eef5"/>
<rect x="518.22" y="98.13" width="9.5" height="9.5" fill="#fbfefe"/>
<rect x="528.75" y="98.13" width="9.5" height="9.5" fill="#fffaeb"/>
<rect x="539.28" y="98.13" width="9.5" height="9.5" fill="#fff4d8"/>
<text x="512.44" y="105.73" font-size="11.5" text-anchor="middle" class="st" transform="rotate(0.035,512.44,105.73)">*</text>
<text x="550.90" y="106.28" font-size="9.78" transform="rotate(0.035,550.90,106.28)">Excinuclease ABC subunit A</text>
<rect x="476.10" y="108.70" width="9.5" height="9.5" fill="#f4fbfd"/>
<rect x="486.63" y="108.70" width="9.5" height="9.5" fill="#fdfeff"/>
<rect x="497.16" y="108.70" width="9.5" height="9.5" fill="#b0dbea"/>
<rect x="507.69" y="108.70" width="9.5" height="9.5" fill="#96c7df"/>
<rect x="518.22" y="108.70" width="9.5" height="9.5" fill="#ffffff"/>
<rect x="528.75" y="108.70" width="9.5" height="9.5" fill="#fee9b1"/>
<rect x="539.28" y="108.70" width="9.5" height="9.5" fill="#fffbf2"/>
<text x="501.91" y="116.30" font-size="11.5" text-anchor="middle" class="st" transform="rotate(0.035,501.91,116.30)">*</text>
<text x="512.44" y="116.30" font-size="11.5" text-anchor="middle" class="st" transform="rotate(0.035,512.44,116.30)">*</text>
<text x="550.90" y="116.85" font-size="9.78" transform="rotate(0.035,550.90,116.85)">CRISPR-associated protein Cas1</text>
<rect x="476.10" y="119.27" width="9.5" height="9.5" fill="#fdfeff"/>
<rect x="486.63" y="119.27" width="9.5" height="9.5" fill="#f8fcfd"/>
<rect x="497.16" y="119.27" width="9.5" height="9.5" fill="#89bcd9"/>
<rect x="507.69" y="119.27" width="9.5" height="9.5" fill="#4b6eb1"/>
<rect x="518.22" y="119.27" width="9.5" height="9.5" fill="#fed086"/>
<rect x="528.75" y="119.27" width="9.5" height="9.5" fill="#fffbf2"/>
<rect x="539.28" y="119.27" width="9.5" height="9.5" fill="#fffdf8"/>
<text x="501.91" y="126.87" font-size="11.5" text-anchor="middle" class="st" transform="rotate(0.035,501.91,126.87)">*</text>
<text x="512.44" y="126.87" font-size="11.5" text-anchor="middle" class="st" transform="rotate(0.035,512.44,126.87)">*</text>
<text x="550.90" y="127.42" font-size="9.78" transform="rotate(0.035,550.90,127.42)">CRISPR-associated helicase Cas3</text>
<rect x="476.10" y="129.84" width="9.5" height="9.5" fill="#feefc4"/>
<rect x="486.63" y="129.84" width="9.5" height="9.5" fill="#f8fcfd"/>
<rect x="497.16" y="129.84" width="9.5" height="9.5" fill="#bce1ee"/>
<rect x="507.69" y="129.84" width="9.5" height="9.5" fill="#e4f4f9"/>
<rect x="518.22" y="129.84" width="9.5" height="9.5" fill="#fbfefe"/>
<rect x="528.75" y="129.84" width="9.5" height="9.5" fill="#fff6de"/>
<rect x="539.28" y="129.84" width="9.5" height="9.5" fill="#ffffff"/>
<text x="501.91" y="137.44" font-size="11.5" text-anchor="middle" class="st" transform="rotate(0.035,501.91,137.44)">*</text>
<text x="550.90" y="137.99" font-size="9.78" transform="rotate(0.035,550.90,137.99)">CRISPR-associated protein, Csn1 family</text>
<rect x="476.10" y="140.41" width="9.5" height="9.5" fill="#f0f9fc"/>
<rect x="486.63" y="140.41" width="9.5" height="9.5" fill="#fbfefe"/>
<rect x="497.16" y="140.41" width="9.5" height="9.5" fill="#a3d1e5"/>
<rect x="507.69" y="140.41" width="9.5" height="9.5" fill="#a3d1e5"/>
<rect x="518.22" y="140.41" width="9.5" height="9.5" fill="#fffaeb"/>
<rect x="528.75" y="140.41" width="9.5" height="9.5" fill="#fee9b1"/>
<rect x="539.28" y="140.41" width="9.5" height="9.5" fill="#fffbf2"/>
<text x="501.91" y="148.01" font-size="11.5" text-anchor="middle" class="st" transform="rotate(0.035,501.91,148.01)">*</text>
<text x="512.44" y="148.01" font-size="11.5" text-anchor="middle" class="st" transform="rotate(0.035,512.44,148.01)">*</text>
<text x="550.90" y="148.56" font-size="9.78" transform="rotate(0.035,550.90,148.56)">Type I restriction enzyme M protein</text>
<rect x="476.10" y="150.98" width="9.5" height="9.5" fill="#e2f4f8"/>
<rect x="486.63" y="150.98" width="9.5" height="9.5" fill="#fffaeb"/>
<rect x="497.16" y="150.98" width="9.5" height="9.5" fill="#a3d1e5"/>
<rect x="507.69" y="150.98" width="9.5" height="9.5" fill="#aad6e8"/>
<rect x="518.22" y="150.98" width="9.5" height="9.5" fill="#fbfefe"/>
<rect x="528.75" y="150.98" width="9.5" height="9.5" fill="#fee9b1"/>
<rect x="539.28" y="150.98" width="9.5" height="9.5" fill="#fbfefe"/>
<text x="501.91" y="158.58" font-size="11.5" text-anchor="middle" class="st" transform="rotate(0.035,501.91,158.58)">*</text>
<text x="512.44" y="158.58" font-size="11.5" text-anchor="middle" class="st" transform="rotate(0.035,512.44,158.58)">*</text>
<text x="550.90" y="159.13" font-size="9.78" transform="rotate(0.035,550.90,159.13)">Type I restriction enzyme, R subunit</text>
<rect x="476.10" y="161.55" width="9.5" height="9.5" fill="#e6f5f9"/>
<rect x="486.63" y="161.55" width="9.5" height="9.5" fill="#fee9b1"/>
<rect x="497.16" y="161.55" width="9.5" height="9.5" fill="#bce1ee"/>
<rect x="507.69" y="161.55" width="9.5" height="9.5" fill="#96c7df"/>
<rect x="518.22" y="161.55" width="9.5" height="9.5" fill="#fffaeb"/>
<rect x="528.75" y="161.55" width="9.5" height="9.5" fill="#fee6a4"/>
<rect x="539.28" y="161.55" width="9.5" height="9.5" fill="#fff6de"/>
<text x="501.91" y="169.15" font-size="11.5" text-anchor="middle" class="st" transform="rotate(0.035,501.91,169.15)">*</text>
<text x="512.44" y="169.15" font-size="11.5" text-anchor="middle" class="st" transform="rotate(0.035,512.44,169.15)">*</text>
<text x="550.90" y="169.70" font-size="9.78" transform="rotate(0.035,550.90,169.70)">Type I restriction enzyme, S subunit</text>
<rect x="476.10" y="172.12" width="9.5" height="9.5" fill="#fff4d8"/>
<rect x="486.63" y="172.12" width="9.5" height="9.5" fill="#f6fbfd"/>
<rect x="497.16" y="172.12" width="9.5" height="9.5" fill="#c3e4f0"/>
<rect x="507.69" y="172.12" width="9.5" height="9.5" fill="#c9e8f1"/>
<rect x="518.22" y="172.12" width="9.5" height="9.5" fill="#fff0cb"/>
<rect x="528.75" y="172.12" width="9.5" height="9.5" fill="#fff6de"/>
<rect x="539.28" y="172.12" width="9.5" height="9.5" fill="#fdfeff"/>
<text x="501.91" y="179.72" font-size="11.5" text-anchor="middle" class="st" transform="rotate(0.035,501.91,179.72)">*</text>
<text x="512.44" y="179.72" font-size="11.5" text-anchor="middle" class="st" transform="rotate(0.035,512.44,179.72)">*</text>
<text x="550.90" y="180.27" font-size="9.78" transform="rotate(0.035,550.90,180.27)">Nitrogen regulatory protein P-II</text>
<rect x="476.10" y="182.69" width="9.5" height="9.5" fill="#feedbe"/>
<rect x="486.63" y="182.69" width="9.5" height="9.5" fill="#fafdfe"/>
<rect x="497.16" y="182.69" width="9.5" height="9.5" fill="#c3e4f0"/>
<rect x="507.69" y="182.69" width="9.5" height="9.5" fill="#f6fbfd"/>
<rect x="518.22" y="182.69" width="9.5" height="9.5" fill="#fdfeff"/>
<rect x="528.75" y="182.69" width="9.5" height="9.5" fill="#f0f9fc"/>
<rect x="539.28" y="182.69" width="9.5" height="9.5" fill="#dcf1f7"/>
<text x="501.91" y="190.29" font-size="11.5" text-anchor="middle" class="st" transform="rotate(0.035,501.91,190.29)">*</text>
<text x="550.90" y="190.84" font-size="9.78" transform="rotate(0.035,550.90,190.84)">Creatinase</text>
<rect x="476.10" y="193.26" width="9.5" height="9.5" fill="#fbfefe"/>
<rect x="486.63" y="193.26" width="9.5" height="9.5" fill="#ffffff"/>
<rect x="497.16" y="193.26" width="9.5" height="9.5" fill="#aad6e8"/>
<rect x="507.69" y="193.26" width="9.5" height="9.5" fill="#bce1ee"/>
<rect x="518.22" y="193.26" width="9.5" height="9.5" fill="#fffdf8"/>
<rect x="528.75" y="193.26" width="9.5" height="9.5" fill="#feebb7"/>
<rect x="539.28" y="193.26" width="9.5" height="9.5" fill="#feedbe"/>
<text x="501.91" y="200.86" font-size="11.5" text-anchor="middle" class="st" transform="rotate(0.035,501.91,200.86)">*</text>
<text x="512.44" y="200.86" font-size="11.5" text-anchor="middle" class="st" transform="rotate(0.035,512.44,200.86)">*</text>
<text x="550.90" y="201.41" font-size="9.78" transform="rotate(0.035,550.90,201.41)">N-methylhydantoinase A</text>
<rect x="476.10" y="203.83" width="9.5" height="9.5" fill="#fafdfe"/>
<rect x="486.63" y="203.83" width="9.5" height="9.5" fill="#ffffff"/>
<rect x="497.16" y="203.83" width="9.5" height="9.5" fill="#9dcce2"/>
<rect x="507.69" y="203.83" width="9.5" height="9.5" fill="#bce1ee"/>
<rect x="518.22" y="203.83" width="9.5" height="9.5" fill="#fafdfe"/>
<rect x="528.75" y="203.83" width="9.5" height="9.5" fill="#fee297"/>
<rect x="539.28" y="203.83" width="9.5" height="9.5" fill="#feebb7"/>
<text x="501.91" y="211.43" font-size="11.5" text-anchor="middle" class="st" transform="rotate(0.035,501.91,211.43)">*</text>
<text x="512.44" y="211.43" font-size="11.5" text-anchor="middle" class="st" transform="rotate(0.035,512.44,211.43)">*</text>
<text x="550.90" y="211.98" font-size="9.78" transform="rotate(0.035,550.90,211.98)">N-methylhydantoinase B</text>
<rect x="476.10" y="214.40" width="9.5" height="9.5" fill="#f8fcfd"/>
<rect x="486.63" y="214.40" width="9.5" height="9.5" fill="#fffbf2"/>
<rect x="497.16" y="214.40" width="9.5" height="9.5" fill="#bce1ee"/>
<rect x="507.69" y="214.40" width="9.5" height="9.5" fill="#cfebf3"/>
<rect x="518.22" y="214.40" width="9.5" height="9.5" fill="#fdfeff"/>
<rect x="528.75" y="214.40" width="9.5" height="9.5" fill="#fff6de"/>
<rect x="539.28" y="214.40" width="9.5" height="9.5" fill="#fff0cb"/>
<text x="501.91" y="222.00" font-size="11.5" text-anchor="middle" class="st" transform="rotate(0.035,501.91,222.00)">*</text>
<text x="512.44" y="222.00" font-size="11.5" text-anchor="middle" class="st" transform="rotate(0.035,512.44,222.00)">*</text>
<text x="550.90" y="222.55" font-size="9.78" transform="rotate(0.035,550.90,222.55)">CobN component of cobalt chelatase</text>
<rect x="476.10" y="224.97" width="9.5" height="9.5" fill="#f8fcfd"/>
<rect x="486.63" y="224.97" width="9.5" height="9.5" fill="#fffaeb"/>
<rect x="497.16" y="224.97" width="9.5" height="9.5" fill="#c3e4f0"/>
<rect x="507.69" y="224.97" width="9.5" height="9.5" fill="#c9e8f1"/>
<rect x="518.22" y="224.97" width="9.5" height="9.5" fill="#fffbf2"/>
<rect x="528.75" y="224.97" width="9.5" height="9.5" fill="#ffffff"/>
<rect x="539.28" y="224.97" width="9.5" height="9.5" fill="#fffdf8"/>
<text x="501.91" y="232.57" font-size="11.5" text-anchor="middle" class="st" transform="rotate(0.035,501.91,232.57)">*</text>
<text x="512.44" y="232.57" font-size="11.5" text-anchor="middle" class="st" transform="rotate(0.035,512.44,232.57)">*</text>
<text x="550.90" y="233.12" font-size="9.78" transform="rotate(0.035,550.90,233.12)">5-methyltetrahydrofolate-homocysteine methyltransferase</text>
<rect x="476.10" y="235.54" width="9.5" height="9.5" fill="#f4fbfd"/>
<rect x="486.63" y="235.54" width="9.5" height="9.5" fill="#feedbe"/>
<rect x="497.16" y="235.54" width="9.5" height="9.5" fill="#b0dbea"/>
<rect x="507.69" y="235.54" width="9.5" height="9.5" fill="#aad6e8"/>
<rect x="518.22" y="235.54" width="9.5" height="9.5" fill="#f4fbfd"/>
<rect x="528.75" y="235.54" width="9.5" height="9.5" fill="#feebb7"/>
<rect x="539.28" y="235.54" width="9.5" height="9.5" fill="#feebb7"/>
<text x="501.91" y="243.14" font-size="11.5" text-anchor="middle" class="st" transform="rotate(0.035,501.91,243.14)">*</text>
<text x="512.44" y="243.14" font-size="11.5" text-anchor="middle" class="st" transform="rotate(0.035,512.44,243.14)">*</text>
<text x="550.90" y="243.69" font-size="9.78" transform="rotate(0.035,550.90,243.69)">Homoserine kinase</text>
<rect x="476.10" y="246.11" width="9.5" height="9.5" fill="#f4fbfd"/>
<rect x="486.63" y="246.11" width="9.5" height="9.5" fill="#fff4d8"/>
<rect x="497.16" y="246.11" width="9.5" height="9.5" fill="#bce1ee"/>
<rect x="507.69" y="246.11" width="9.5" height="9.5" fill="#e2f4f8"/>
<rect x="518.22" y="246.11" width="9.5" height="9.5" fill="#fff8e5"/>
<rect x="528.75" y="246.11" width="9.5" height="9.5" fill="#fafdfe"/>
<rect x="539.28" y="246.11" width="9.5" height="9.5" fill="#fafdfe"/>
<text x="501.91" y="253.71" font-size="11.5" text-anchor="middle" class="st" transform="rotate(0.035,501.91,253.71)">*</text>
<text x="550.90" y="254.26" font-size="9.78" transform="rotate(0.035,550.90,254.26)">Homoserine O-acetyltransferase</text>
<rect x="476.10" y="256.68" width="9.5" height="9.5" fill="#fff2d1"/>
<rect x="486.63" y="256.68" width="9.5" height="9.5" fill="#f8fcfd"/>
<rect x="497.16" y="256.68" width="9.5" height="9.5" fill="#e2f4f8"/>
<rect x="507.69" y="256.68" width="9.5" height="9.5" fill="#bce1ee"/>
<rect x="518.22" y="256.68" width="9.5" height="9.5" fill="#ffffff"/>
<rect x="528.75" y="256.68" width="9.5" height="9.5" fill="#ffffff"/>
<rect x="539.28" y="256.68" width="9.5" height="9.5" fill="#feedbe"/>
<text x="512.44" y="264.28" font-size="11.5" text-anchor="middle" class="st" transform="rotate(0.035,512.44,264.28)">*</text>
<text x="550.90" y="264.83" font-size="9.78" transform="rotate(0.035,550.90,264.83)">O-succinylhomoserine sulfhydrylase</text>
<rect x="476.10" y="267.25" width="9.5" height="9.5" fill="#fffdf8"/>
<rect x="486.63" y="267.25" width="9.5" height="9.5" fill="#fffbf2"/>
<rect x="497.16" y="267.25" width="9.5" height="9.5" fill="#c9e8f1"/>
<rect x="507.69" y="267.25" width="9.5" height="9.5" fill="#e2f4f8"/>
<rect x="518.22" y="267.25" width="9.5" height="9.5" fill="#fdfeff"/>
<rect x="528.75" y="267.25" width="9.5" height="9.5" fill="#feefc4"/>
<rect x="539.28" y="267.25" width="9.5" height="9.5" fill="#fbfefe"/>
<text x="501.91" y="274.85" font-size="11.5" text-anchor="middle" class="st" transform="rotate(0.035,501.91,274.85)">*</text>
<text x="550.90" y="275.40" font-size="9.78" transform="rotate(0.035,550.90,275.40)">Anthranilate synthase, aminase component</text>
<rect x="476.10" y="277.82" width="9.5" height="9.5" fill="#feedbe"/>
<rect x="486.63" y="277.82" width="9.5" height="9.5" fill="#f0f9fc"/>
<rect x="497.16" y="277.82" width="9.5" height="9.5" fill="#b0dbea"/>
<rect x="507.69" y="277.82" width="9.5" height="9.5" fill="#e9f7fa"/>
<rect x="518.22" y="277.82" width="9.5" height="9.5" fill="#fee9b1"/>
<rect x="528.75" y="277.82" width="9.5" height="9.5" fill="#fff6de"/>
<rect x="539.28" y="277.82" width="9.5" height="9.5" fill="#fafdfe"/>
<text x="501.91" y="285.42" font-size="11.5" text-anchor="middle" class="st" transform="rotate(0.035,501.91,285.42)">*</text>
<text x="550.90" y="285.97" font-size="9.78" transform="rotate(0.035,550.90,285.97)">Anthranilate synthase, amidotransferase component</text>
<rect x="476.10" y="288.39" width="9.5" height="9.5" fill="#f6fbfd"/>
<rect x="486.63" y="288.39" width="9.5" height="9.5" fill="#ffffff"/>
<rect x="497.16" y="288.39" width="9.5" height="9.5" fill="#bce1ee"/>
<rect x="507.69" y="288.39" width="9.5" height="9.5" fill="#bce1ee"/>
<rect x="518.22" y="288.39" width="9.5" height="9.5" fill="#fffbf2"/>
<rect x="528.75" y="288.39" width="9.5" height="9.5" fill="#fbfefe"/>
<rect x="539.28" y="288.39" width="9.5" height="9.5" fill="#fffbf2"/>
<text x="501.91" y="295.99" font-size="11.5" text-anchor="middle" class="st" transform="rotate(0.035,501.91,295.99)">*</text>
<text x="512.44" y="295.99" font-size="11.5" text-anchor="middle" class="st" transform="rotate(0.035,512.44,295.99)">*</text>
<text x="550.90" y="296.54" font-size="9.78" transform="rotate(0.035,550.90,296.54)">Gluconate transporter, DctM subunit</text>
<rect x="476.10" y="298.96" width="9.5" height="9.5" fill="#fee6a4"/>
<rect x="486.63" y="298.96" width="9.5" height="9.5" fill="#f2fafc"/>
<rect x="497.16" y="298.96" width="9.5" height="9.5" fill="#90c1dc"/>
<rect x="507.69" y="298.96" width="9.5" height="9.5" fill="#fafdfe"/>
<rect x="518.22" y="298.96" width="9.5" height="9.5" fill="#fbfefe"/>
<rect x="528.75" y="298.96" width="9.5" height="9.5" fill="#fdfeff"/>
<rect x="539.28" y="298.96" width="9.5" height="9.5" fill="#f4fbfd"/>
<text x="501.91" y="306.56" font-size="11.5" text-anchor="middle" class="st" transform="rotate(0.035,501.91,306.56)">*</text>
<text x="550.90" y="307.11" font-size="9.78" transform="rotate(0.035,550.90,307.11)">Gluconate transporter, DctP subunit</text>
<rect x="476.10" y="309.53" width="9.5" height="9.5" fill="#f4fbfd"/>
<rect x="486.63" y="309.53" width="9.5" height="9.5" fill="#fbfefe"/>
<rect x="497.16" y="309.53" width="9.5" height="9.5" fill="#bce1ee"/>
<rect x="507.69" y="309.53" width="9.5" height="9.5" fill="#aad6e8"/>
<rect x="518.22" y="309.53" width="9.5" height="9.5" fill="#fffdf8"/>
<rect x="528.75" y="309.53" width="9.5" height="9.5" fill="#feefc4"/>
<rect x="539.28" y="309.53" width="9.5" height="9.5" fill="#fed98e"/>
<text x="501.91" y="317.13" font-size="11.5" text-anchor="middle" class="st" transform="rotate(0.035,501.91,317.13)">*</text>
<text x="512.44" y="317.13" font-size="11.5" text-anchor="middle" class="st" transform="rotate(0.035,512.44,317.13)">*</text>
<text x="550.90" y="317.68" font-size="9.78" transform="rotate(0.035,550.90,317.68)">Tricarboxylate transport membrane protein TctA</text>
<rect x="476.10" y="320.10" width="9.5" height="9.5" fill="#fffdf8"/>
<rect x="486.63" y="320.10" width="9.5" height="9.5" fill="#f4fbfd"/>
<rect x="497.16" y="320.10" width="9.5" height="9.5" fill="#b6deec"/>
<rect x="507.69" y="320.10" width="9.5" height="9.5" fill="#c3e4f0"/>
<rect x="518.22" y="320.10" width="9.5" height="9.5" fill="#fffdf8"/>
<rect x="528.75" y="320.10" width="9.5" height="9.5" fill="#f4fbfd"/>
<rect x="539.28" y="320.10" width="9.5" height="9.5" fill="#f8fcfd"/>
<text x="501.91" y="327.70" font-size="11.5" text-anchor="middle" class="st" transform="rotate(0.035,501.91,327.70)">*</text>
<text x="512.44" y="327.70" font-size="11.5" text-anchor="middle" class="st" transform="rotate(0.035,512.44,327.70)">*</text>
<text x="550.90" y="328.25" font-size="9.78" transform="rotate(0.035,550.90,328.25)">Spermidine/putrescine, ATP-binding protein PotA</text>
<rect x="476.10" y="330.67" width="9.5" height="9.5" fill="#fdfeff"/>
<rect x="486.63" y="330.67" width="9.5" height="9.5" fill="#fafdfe"/>
<rect x="497.16" y="330.67" width="9.5" height="9.5" fill="#bce1ee"/>
<rect x="507.69" y="330.67" width="9.5" height="9.5" fill="#c9e8f1"/>
<rect x="518.22" y="330.67" width="9.5" height="9.5" fill="#fff0cb"/>
<rect x="528.75" y="330.67" width="9.5" height="9.5" fill="#fffbf2"/>
<rect x="539.28" y="330.67" width="9.5" height="9.5" fill="#fffaeb"/>
<text x="501.91" y="338.27" font-size="11.5" text-anchor="middle" class="st" transform="rotate(0.035,501.91,338.27)">*</text>
<text x="512.44" y="338.27" font-size="11.5" text-anchor="middle" class="st" transform="rotate(0.035,512.44,338.27)">*</text>
<text x="550.90" y="338.82" font-size="9.78" transform="rotate(0.035,550.90,338.82)">Spermidine/putrescine, permease component PotB</text>
<rect x="476.10" y="341.24" width="9.5" height="9.5" fill="#f8fcfd"/>
<rect x="486.63" y="341.24" width="9.5" height="9.5" fill="#fdfeff"/>
<rect x="497.16" y="341.24" width="9.5" height="9.5" fill="#a3d1e5"/>
<rect x="507.69" y="341.24" width="9.5" height="9.5" fill="#b6deec"/>
<rect x="518.22" y="341.24" width="9.5" height="9.5" fill="#ffffff"/>
<rect x="528.75" y="341.24" width="9.5" height="9.5" fill="#fee49d"/>
<rect x="539.28" y="341.24" width="9.5" height="9.5" fill="#fee6a4"/>
<text x="501.91" y="348.84" font-size="11.5" text-anchor="middle" class="st" transform="rotate(0.035,501.91,348.84)">*</text>
<text x="512.44" y="348.84" font-size="11.5" text-anchor="middle" class="st" transform="rotate(0.035,512.44,348.84)">*</text>
<text x="550.90" y="349.39" font-size="9.78" transform="rotate(0.035,550.90,349.39)">Spermidine/putrescine, permease component PotC</text>
<rect x="476.10" y="351.81" width="9.5" height="9.5" fill="#fff0cb"/>
<rect x="486.63" y="351.81" width="9.5" height="9.5" fill="#f0f9fc"/>
<rect x="497.16" y="351.81" width="9.5" height="9.5" fill="#bce1ee"/>
<rect x="507.69" y="351.81" width="9.5" height="9.5" fill="#e6f5f9"/>
<rect x="518.22" y="351.81" width="9.5" height="9.5" fill="#fffaeb"/>
<rect x="528.75" y="351.81" width="9.5" height="9.5" fill="#fafdfe"/>
<rect x="539.28" y="351.81" width="9.5" height="9.5" fill="#f8fcfd"/>
<text x="501.91" y="359.41" font-size="11.5" text-anchor="middle" class="st" transform="rotate(0.035,501.91,359.41)">*</text>
<text x="550.90" y="359.96" font-size="9.78" transform="rotate(0.035,550.90,359.96)">Spermidine/putrescine, substrate-binding protein PotD</text>
<rect x="476.10" y="362.38" width="9.5" height="9.5" fill="#ffffff"/>
<rect x="486.63" y="362.38" width="9.5" height="9.5" fill="#fffdf8"/>
<rect x="497.16" y="362.38" width="9.5" height="9.5" fill="#c9e8f1"/>
<rect x="507.69" y="362.38" width="9.5" height="9.5" fill="#e9f7fa"/>
<rect x="518.22" y="362.38" width="9.5" height="9.5" fill="#fff8e5"/>
<rect x="528.75" y="362.38" width="9.5" height="9.5" fill="#fff8e5"/>
<rect x="539.28" y="362.38" width="9.5" height="9.5" fill="#feedbe"/>
<text x="501.91" y="369.98" font-size="11.5" text-anchor="middle" class="st" transform="rotate(0.035,501.91,369.98)">*</text>
<text x="550.90" y="370.53" font-size="9.78" transform="rotate(0.035,550.90,370.53)">Putrescine, ATP-binding protein PotG</text>
<rect x="476.10" y="372.95" width="9.5" height="9.5" fill="#fbfefe"/>
<rect x="486.63" y="372.95" width="9.5" height="9.5" fill="#ffffff"/>
<rect x="497.16" y="372.95" width="9.5" height="9.5" fill="#bce1ee"/>
<rect x="507.69" y="372.95" width="9.5" height="9.5" fill="#bce1ee"/>
<rect x="518.22" y="372.95" width="9.5" height="9.5" fill="#f8fcfd"/>
<rect x="528.75" y="372.95" width="9.5" height="9.5" fill="#feefc4"/>
<rect x="539.28" y="372.95" width="9.5" height="9.5" fill="#fff2d1"/>
<text x="501.91" y="380.55" font-size="11.5" text-anchor="middle" class="st" transform="rotate(0.035,501.91,380.55)">*</text>
<text x="512.44" y="380.55" font-size="11.5" text-anchor="middle" class="st" transform="rotate(0.035,512.44,380.55)">*</text>
<text x="550.90" y="381.10" font-size="9.78" transform="rotate(0.035,550.90,381.10)">Putrescine, permease protein PotH</text>
<rect x="476.10" y="383.52" width="9.5" height="9.5" fill="#ffffff"/>
<rect x="486.63" y="383.52" width="9.5" height="9.5" fill="#e9f7fa"/>
<rect x="497.16" y="383.52" width="9.5" height="9.5" fill="#b0dbea"/>
<rect x="507.69" y="383.52" width="9.5" height="9.5" fill="#c3e4f0"/>
<rect x="518.22" y="383.52" width="9.5" height="9.5" fill="#fee9b1"/>
<rect x="528.75" y="383.52" width="9.5" height="9.5" fill="#fee9b1"/>
<rect x="539.28" y="383.52" width="9.5" height="9.5" fill="#feedbe"/>
<text x="501.91" y="391.12" font-size="11.5" text-anchor="middle" class="st" transform="rotate(0.035,501.91,391.12)">*</text>
<text x="512.44" y="391.12" font-size="11.5" text-anchor="middle" class="st" transform="rotate(0.035,512.44,391.12)">*</text>
<text x="550.90" y="391.67" font-size="9.78" transform="rotate(0.035,550.90,391.67)">glycine betaine/proline, ATP-binding protein ProV</text>
<rect x="476.10" y="394.09" width="9.5" height="9.5" fill="#fdfeff"/>
<rect x="486.63" y="394.09" width="9.5" height="9.5" fill="#f8fcfd"/>
<rect x="497.16" y="394.09" width="9.5" height="9.5" fill="#b6deec"/>
<rect x="507.69" y="394.09" width="9.5" height="9.5" fill="#b0dbea"/>
<rect x="518.22" y="394.09" width="9.5" height="9.5" fill="#feebb7"/>
<rect x="528.75" y="394.09" width="9.5" height="9.5" fill="#fff4d8"/>
<rect x="539.28" y="394.09" width="9.5" height="9.5" fill="#fee297"/>
<text x="501.91" y="401.69" font-size="11.5" text-anchor="middle" class="st" transform="rotate(0.035,501.91,401.69)">*</text>
<text x="512.44" y="401.69" font-size="11.5" text-anchor="middle" class="st" transform="rotate(0.035,512.44,401.69)">*</text>
<text x="550.90" y="402.24" font-size="9.78" transform="rotate(0.035,550.90,402.24)">glycine betaine/proline, permease protein ProW</text>
<rect x="476.10" y="404.66" width="9.5" height="9.5" fill="#fee7aa"/>
<rect x="486.63" y="404.66" width="9.5" height="9.5" fill="#e9f7fa"/>
<rect x="497.16" y="404.66" width="9.5" height="9.5" fill="#c9e8f1"/>
<rect x="507.69" y="404.66" width="9.5" height="9.5" fill="#c3e4f0"/>
<rect x="518.22" y="404.66" width="9.5" height="9.5" fill="#fff0cb"/>
<rect x="528.75" y="404.66" width="9.5" height="9.5" fill="#fdfeff"/>
<rect x="539.28" y="404.66" width="9.5" height="9.5" fill="#feedbe"/>
<text x="501.91" y="412.26" font-size="11.5" text-anchor="middle" class="st" transform="rotate(0.035,501.91,412.26)">*</text>
<text x="512.44" y="412.26" font-size="11.5" text-anchor="middle" class="st" transform="rotate(0.035,512.44,412.26)">*</text>
<text x="550.90" y="412.81" font-size="9.78" transform="rotate(0.035,550.90,412.81)">glycine betaine/proline, substrate-binding protein ProX</text>
<rect x="476.10" y="415.23" width="9.5" height="9.5" fill="#fbfefe"/>
<rect x="486.63" y="415.23" width="9.5" height="9.5" fill="#f8fcfd"/>
<rect x="497.16" y="415.23" width="9.5" height="9.5" fill="#b6deec"/>
<rect x="507.69" y="415.23" width="9.5" height="9.5" fill="#cfebf3"/>
<rect x="518.22" y="415.23" width="9.5" height="9.5" fill="#fee297"/>
<rect x="528.75" y="415.23" width="9.5" height="9.5" fill="#feefc4"/>
<rect x="539.28" y="415.23" width="9.5" height="9.5" fill="#feedbe"/>
<text x="501.91" y="422.83" font-size="11.5" text-anchor="middle" class="st" transform="rotate(0.035,501.91,422.83)">*</text>
<text x="550.90" y="423.38" font-size="9.78" transform="rotate(0.035,550.90,423.38)">D-xylose, ATP-binding protein XylG</text>
<rect x="476.10" y="425.80" width="9.5" height="9.5" fill="#eff9fb"/>
<rect x="486.63" y="425.80" width="9.5" height="9.5" fill="#f2fafc"/>
<rect x="497.16" y="425.80" width="9.5" height="9.5" fill="#89bcd9"/>
<rect x="507.69" y="425.80" width="9.5" height="9.5" fill="#89bcd9"/>
<rect x="518.22" y="425.80" width="9.5" height="9.5" fill="#fdfeff"/>
<rect x="528.75" y="425.80" width="9.5" height="9.5" fill="#fee6a4"/>
<rect x="539.28" y="425.80" width="9.5" height="9.5" fill="#feca81"/>
<text x="501.91" y="433.40" font-size="11.5" text-anchor="middle" class="st" transform="rotate(0.035,501.91,433.40)">*</text>
<text x="512.44" y="433.40" font-size="11.5" text-anchor="middle" class="st" transform="rotate(0.035,512.44,433.40)">*</text>
<text x="550.90" y="433.95" font-size="9.78" transform="rotate(0.035,550.90,433.95)">L-rhamnose, permease protein RhaQ</text>
<rect x="476.10" y="436.37" width="9.5" height="9.5" fill="#fdfeff"/>
<rect x="486.63" y="436.37" width="9.5" height="9.5" fill="#ffffff"/>
<rect x="497.16" y="436.37" width="9.5" height="9.5" fill="#bce1ee"/>
<rect x="507.69" y="436.37" width="9.5" height="9.5" fill="#bce1ee"/>
<rect x="518.22" y="436.37" width="9.5" height="9.5" fill="#fff0cb"/>
<rect x="528.75" y="436.37" width="9.5" height="9.5" fill="#fffbf2"/>
<rect x="539.28" y="436.37" width="9.5" height="9.5" fill="#feebb7"/>
<text x="501.91" y="443.97" font-size="11.5" text-anchor="middle" class="st" transform="rotate(0.035,501.91,443.97)">*</text>
<text x="512.44" y="443.97" font-size="11.5" text-anchor="middle" class="st" transform="rotate(0.035,512.44,443.97)">*</text>
<text x="550.90" y="444.52" font-size="9.78" transform="rotate(0.035,550.90,444.52)">Inositol, ATP-binding protein IatA</text>
<rect x="476.10" y="446.94" width="9.5" height="9.5" fill="#fff0cb"/>
<rect x="486.63" y="446.94" width="9.5" height="9.5" fill="#e2f4f8"/>
<rect x="497.16" y="446.94" width="9.5" height="9.5" fill="#c3e4f0"/>
<rect x="507.69" y="446.94" width="9.5" height="9.5" fill="#bce1ee"/>
<rect x="518.22" y="446.94" width="9.5" height="9.5" fill="#fff0cb"/>
<rect x="528.75" y="446.94" width="9.5" height="9.5" fill="#fbfefe"/>
<rect x="539.28" y="446.94" width="9.5" height="9.5" fill="#fee6a4"/>
<text x="501.91" y="454.54" font-size="11.5" text-anchor="middle" class="st" transform="rotate(0.035,501.91,454.54)">*</text>
<text x="512.44" y="454.54" font-size="11.5" text-anchor="middle" class="st" transform="rotate(0.035,512.44,454.54)">*</text>
<text x="550.90" y="455.09" font-size="9.78" transform="rotate(0.035,550.90,455.09)">Ribose, ATP-binding protein RbsA</text>
<rect x="476.10" y="457.51" width="9.5" height="9.5" fill="#fbfefe"/>
<rect x="486.63" y="457.51" width="9.5" height="9.5" fill="#f4fbfd"/>
<rect x="497.16" y="457.51" width="9.5" height="9.5" fill="#e2f4f8"/>
<rect x="507.69" y="457.51" width="9.5" height="9.5" fill="#c3e4f0"/>
<rect x="518.22" y="457.51" width="9.5" height="9.5" fill="#fffaeb"/>
<rect x="528.75" y="457.51" width="9.5" height="9.5" fill="#f4fbfd"/>
<rect x="539.28" y="457.51" width="9.5" height="9.5" fill="#fee6a4"/>
<text x="512.44" y="465.11" font-size="11.5" text-anchor="middle" class="st" transform="rotate(0.035,512.44,465.11)">*</text>
<text x="550.90" y="465.66" font-size="9.78" transform="rotate(0.035,550.90,465.66)">Ribose, permease protein RbsC</text>
<rect x="476.10" y="468.08" width="9.5" height="9.5" fill="#ffffff"/>
<rect x="486.63" y="468.08" width="9.5" height="9.5" fill="#fafdfe"/>
<rect x="497.16" y="468.08" width="9.5" height="9.5" fill="#bce1ee"/>
<rect x="507.69" y="468.08" width="9.5" height="9.5" fill="#c9e8f1"/>
<rect x="518.22" y="468.08" width="9.5" height="9.5" fill="#fdfeff"/>
<rect x="528.75" y="468.08" width="9.5" height="9.5" fill="#ffffff"/>
<rect x="539.28" y="468.08" width="9.5" height="9.5" fill="#feebb7"/>
<text x="501.91" y="475.68" font-size="11.5" text-anchor="middle" class="st" transform="rotate(0.035,501.91,475.68)">*</text>
<text x="512.44" y="475.68" font-size="11.5" text-anchor="middle" class="st" transform="rotate(0.035,512.44,475.68)">*</text>
<text x="550.90" y="476.23" font-size="9.78" transform="rotate(0.035,550.90,476.23)">Glycerol-3-phosphate, ATP-binding protein UgpC</text>
<rect x="476.10" y="478.65" width="9.5" height="9.5" fill="#fbfefe"/>
<rect x="486.63" y="478.65" width="9.5" height="9.5" fill="#fdfeff"/>
<rect x="497.16" y="478.65" width="9.5" height="9.5" fill="#cfebf3"/>
<rect x="507.69" y="478.65" width="9.5" height="9.5" fill="#bce1ee"/>
<rect x="518.22" y="478.65" width="9.5" height="9.5" fill="#fbfefe"/>
<rect x="528.75" y="478.65" width="9.5" height="9.5" fill="#fff2d1"/>
<rect x="539.28" y="478.65" width="9.5" height="9.5" fill="#fee49d"/>
<text x="501.91" y="486.25" font-size="11.5" text-anchor="middle" class="st" transform="rotate(0.035,501.91,486.25)">*</text>
<text x="512.44" y="486.25" font-size="11.5" text-anchor="middle" class="st" transform="rotate(0.035,512.44,486.25)">*</text>
<text x="550.90" y="486.80" font-size="9.78" transform="rotate(0.035,550.90,486.80)">Glycerol-3-phosphate, permease protein UgpE</text>
<rect x="476.10" y="489.22" width="9.5" height="9.5" fill="#f4fbfd"/>
<rect x="486.63" y="489.22" width="9.5" height="9.5" fill="#ffffff"/>
<rect x="497.16" y="489.22" width="9.5" height="9.5" fill="#aad6e8"/>
<rect x="507.69" y="489.22" width="9.5" height="9.5" fill="#e2f4f8"/>
<rect x="518.22" y="489.22" width="9.5" height="9.5" fill="#fdfeff"/>
<rect x="528.75" y="489.22" width="9.5" height="9.5" fill="#fee7aa"/>
<rect x="539.28" y="489.22" width="9.5" height="9.5" fill="#fff4d8"/>
<text x="501.91" y="496.82" font-size="11.5" text-anchor="middle" class="st" transform="rotate(0.035,501.91,496.82)">*</text>
<text x="550.90" y="497.37" font-size="9.78" transform="rotate(0.035,550.90,497.37)">Alpha-glucoside, ATP-binding protein AglK</text>
<rect x="476.10" y="499.79" width="9.5" height="9.5" fill="#fee7aa"/>
<rect x="486.63" y="499.79" width="9.5" height="9.5" fill="#bce1ee"/>
<rect x="497.16" y="499.79" width="9.5" height="9.5" fill="#c9e8f1"/>
<rect x="507.69" y="499.79" width="9.5" height="9.5" fill="#c9e8f1"/>
<rect x="518.22" y="499.79" width="9.5" height="9.5" fill="#fedc91"/>
<rect x="528.75" y="499.79" width="9.5" height="9.5" fill="#f0f9fc"/>
<rect x="539.28" y="499.79" width="9.5" height="9.5" fill="#fff4d8"/>
<text x="501.91" y="507.39" font-size="11.5" text-anchor="middle" class="st" transform="rotate(0.035,501.91,507.39)">*</text>
<text x="512.44" y="507.39" font-size="11.5" text-anchor="middle" class="st" transform="rotate(0.035,512.44,507.39)">*</text>
<text x="550.90" y="507.94" font-size="9.78" transform="rotate(0.035,550.90,507.94)">Alpha-glucoside, substrate-binding protein AglE</text>
<rect x="476.10" y="510.36" width="9.5" height="9.5" fill="#f0f9fc"/>
<rect x="486.63" y="510.36" width="9.5" height="9.5" fill="#fbfefe"/>
<rect x="497.16" y="510.36" width="9.5" height="9.5" fill="#b6deec"/>
<rect x="507.69" y="510.36" width="9.5" height="9.5" fill="#bce1ee"/>
<rect x="518.22" y="510.36" width="9.5" height="9.5" fill="#fffbf2"/>
<rect x="528.75" y="510.36" width="9.5" height="9.5" fill="#fdfeff"/>
<rect x="539.28" y="510.36" width="9.5" height="9.5" fill="#fffdf8"/>
<text x="501.91" y="517.96" font-size="11.5" text-anchor="middle" class="st" transform="rotate(0.035,501.91,517.96)">*</text>
<text x="512.44" y="517.96" font-size="11.5" text-anchor="middle" class="st" transform="rotate(0.035,512.44,517.96)">*</text>
<text x="550.90" y="518.51" font-size="9.78" transform="rotate(0.035,550.90,518.51)">Maltose/maltodextrin, ATP-binding protein MalK</text>
<rect x="476.10" y="520.93" width="9.5" height="9.5" fill="#f0f9fc"/>
<rect x="486.63" y="520.93" width="9.5" height="9.5" fill="#ffffff"/>
<rect x="497.16" y="520.93" width="9.5" height="9.5" fill="#b6deec"/>
<rect x="507.69" y="520.93" width="9.5" height="9.5" fill="#bce1ee"/>
<rect x="518.22" y="520.93" width="9.5" height="9.5" fill="#ffffff"/>
<rect x="528.75" y="520.93" width="9.5" height="9.5" fill="#fff4d8"/>
<rect x="539.28" y="520.93" width="9.5" height="9.5" fill="#fff2d1"/>
<text x="501.91" y="528.53" font-size="11.5" text-anchor="middle" class="st" transform="rotate(0.035,501.91,528.53)">*</text>
<text x="512.44" y="528.53" font-size="11.5" text-anchor="middle" class="st" transform="rotate(0.035,512.44,528.53)">*</text>
<text x="550.90" y="529.08" font-size="9.78" transform="rotate(0.035,550.90,529.08)">Maltose/maltodextrin, permease protein MalG</text>
<rect x="476.10" y="531.50" width="9.5" height="9.5" fill="#fbfefe"/>
<rect x="486.63" y="531.50" width="9.5" height="9.5" fill="#fdfeff"/>
<rect x="497.16" y="531.50" width="9.5" height="9.5" fill="#bce1ee"/>
<rect x="507.69" y="531.50" width="9.5" height="9.5" fill="#cfebf3"/>
<rect x="518.22" y="531.50" width="9.5" height="9.5" fill="#fffdf8"/>
<rect x="528.75" y="531.50" width="9.5" height="9.5" fill="#fff8e5"/>
<rect x="539.28" y="531.50" width="9.5" height="9.5" fill="#ffffff"/>
<text x="501.91" y="539.10" font-size="11.5" text-anchor="middle" class="st" transform="rotate(0.035,501.91,539.10)">*</text>
<text x="512.44" y="539.10" font-size="11.5" text-anchor="middle" class="st" transform="rotate(0.035,512.44,539.10)">*</text>
<text x="550.90" y="539.65" font-size="9.78" transform="rotate(0.035,550.90,539.65)">Branched-chain amino acid, ATP-binding protein LivG</text>
<rect x="476.10" y="542.07" width="9.5" height="9.5" fill="#f8fcfd"/>
<rect x="486.63" y="542.07" width="9.5" height="9.5" fill="#ffffff"/>
<rect x="497.16" y="542.07" width="9.5" height="9.5" fill="#e6f5f9"/>
<rect x="507.69" y="542.07" width="9.5" height="9.5" fill="#cfebf3"/>
<rect x="518.22" y="542.07" width="9.5" height="9.5" fill="#fffbf2"/>
<rect x="528.75" y="542.07" width="9.5" height="9.5" fill="#fffdf8"/>
<rect x="539.28" y="542.07" width="9.5" height="9.5" fill="#fee297"/>
<text x="512.44" y="549.67" font-size="11.5" text-anchor="middle" class="st" transform="rotate(0.035,512.44,549.67)">*</text>
<text x="550.90" y="550.22" font-size="9.78" transform="rotate(0.035,550.90,550.22)">Dipeptide, ATP-binding protein DppD</text>
<rect x="476.10" y="552.64" width="9.5" height="9.5" fill="#f0f9fc"/>
<rect x="486.63" y="552.64" width="9.5" height="9.5" fill="#fffbf2"/>
<rect x="497.16" y="552.64" width="9.5" height="9.5" fill="#c9e8f1"/>
<rect x="507.69" y="552.64" width="9.5" height="9.5" fill="#cfebf3"/>
<rect x="518.22" y="552.64" width="9.5" height="9.5" fill="#fbfefe"/>
<rect x="528.75" y="552.64" width="9.5" height="9.5" fill="#feefc4"/>
<rect x="539.28" y="552.64" width="9.5" height="9.5" fill="#fee7aa"/>
<text x="501.91" y="560.24" font-size="11.5" text-anchor="middle" class="st" transform="rotate(0.035,501.91,560.24)">*</text>
<text x="512.44" y="560.24" font-size="11.5" text-anchor="middle" class="st" transform="rotate(0.035,512.44,560.24)">*</text>
<text x="550.90" y="560.79" font-size="9.78" transform="rotate(0.035,550.90,560.79)">Dipeptide, permease protein DppB</text>
<rect x="476.10" y="563.21" width="9.5" height="9.5" fill="#f6fbfd"/>
<rect x="486.63" y="563.21" width="9.5" height="9.5" fill="#ffffff"/>
<rect x="497.16" y="563.21" width="9.5" height="9.5" fill="#c9e8f1"/>
<rect x="507.69" y="563.21" width="9.5" height="9.5" fill="#c3e4f0"/>
<rect x="518.22" y="563.21" width="9.5" height="9.5" fill="#fdfeff"/>
<rect x="528.75" y="563.21" width="9.5" height="9.5" fill="#feefc4"/>
<rect x="539.28" y="563.21" width="9.5" height="9.5" fill="#fee297"/>
<text x="501.91" y="570.81" font-size="11.5" text-anchor="middle" class="st" transform="rotate(0.035,501.91,570.81)">*</text>
<text x="512.44" y="570.81" font-size="11.5" text-anchor="middle" class="st" transform="rotate(0.035,512.44,570.81)">*</text>
<text x="550.90" y="571.36" font-size="9.78" transform="rotate(0.035,550.90,571.36)">Dipeptide, permease protein DppC</text>
<rect x="476.10" y="573.78" width="9.5" height="9.5" fill="#e9f7fa"/>
<rect x="486.63" y="573.78" width="9.5" height="9.5" fill="#fff0cb"/>
<rect x="497.16" y="573.78" width="9.5" height="9.5" fill="#bce1ee"/>
<rect x="507.69" y="573.78" width="9.5" height="9.5" fill="#c9e8f1"/>
<rect x="518.22" y="573.78" width="9.5" height="9.5" fill="#fafdfe"/>
<rect x="528.75" y="573.78" width="9.5" height="9.5" fill="#fee6a4"/>
<rect x="539.28" y="573.78" width="9.5" height="9.5" fill="#feedbe"/>
<text x="501.91" y="581.38" font-size="11.5" text-anchor="middle" class="st" transform="rotate(0.035,501.91,581.38)">*</text>
<text x="512.44" y="581.38" font-size="11.5" text-anchor="middle" class="st" transform="rotate(0.035,512.44,581.38)">*</text>
<text x="550.90" y="581.93" font-size="9.78" transform="rotate(0.035,550.90,581.93)">Oligopeptide, ATP-binding protein OppD</text>
<rect x="476.10" y="584.35" width="9.5" height="9.5" fill="#f6fbfd"/>
<rect x="486.63" y="584.35" width="9.5" height="9.5" fill="#fbfefe"/>
<rect x="497.16" y="584.35" width="9.5" height="9.5" fill="#bce1ee"/>
<rect x="507.69" y="584.35" width="9.5" height="9.5" fill="#b6deec"/>
<rect x="518.22" y="584.35" width="9.5" height="9.5" fill="#ffffff"/>
<rect x="528.75" y="584.35" width="9.5" height="9.5" fill="#feefc4"/>
<rect x="539.28" y="584.35" width="9.5" height="9.5" fill="#fee297"/>
<text x="501.91" y="591.95" font-size="11.5" text-anchor="middle" class="st" transform="rotate(0.035,501.91,591.95)">*</text>
<text x="512.44" y="591.95" font-size="11.5" text-anchor="middle" class="st" transform="rotate(0.035,512.44,591.95)">*</text>
<text x="550.90" y="592.50" font-size="9.78" transform="rotate(0.035,550.90,592.50)">Oligopeptide, ATP-binding protein OppF</text>
<rect x="476.10" y="594.92" width="9.5" height="9.5" fill="#e9f7fa"/>
<rect x="486.63" y="594.92" width="9.5" height="9.5" fill="#fffdf8"/>
<rect x="497.16" y="594.92" width="9.5" height="9.5" fill="#dcf1f7"/>
<rect x="507.69" y="594.92" width="9.5" height="9.5" fill="#c3e4f0"/>
<rect x="518.22" y="594.92" width="9.5" height="9.5" fill="#fdfeff"/>
<rect x="528.75" y="594.92" width="9.5" height="9.5" fill="#fff8e5"/>
<rect x="539.28" y="594.92" width="9.5" height="9.5" fill="#fee297"/>
<text x="512.44" y="602.52" font-size="11.5" text-anchor="middle" class="st" transform="rotate(0.035,512.44,602.52)">*</text>
<text x="550.90" y="603.07" font-size="9.78" transform="rotate(0.035,550.90,603.07)">Oligopeptide, permease protein OppC</text>
<text transform="translate(484.25,606.50) rotate(-90)" font-size="9.95" text-anchor="end">C vs T0</text>
<text transform="translate(494.78,606.50) rotate(-90)" font-size="9.95" text-anchor="end">A vs C</text>
<text transform="translate(505.31,606.50) rotate(-90)" font-size="9.95" text-anchor="end">W vs C</text>
<text transform="translate(515.84,606.50) rotate(-90)" font-size="9.95" text-anchor="end">AW vs C</text>
<text transform="translate(526.37,606.50) rotate(-90)" font-size="9.95" text-anchor="end">PA vs A</text>
<text transform="translate(536.90,606.50) rotate(-90)" font-size="9.95" text-anchor="end">PW vs W</text>
<text transform="translate(547.43,606.50) rotate(-90)" font-size="9.95" text-anchor="end">PAW vs AW</text>
<rect x="99.10" y="590.50" width="9.5" height="9.5" fill="#f2fafc"/>
<rect x="109.65" y="590.50" width="9.5" height="9.5" fill="#e6f5f9"/>
<rect x="120.20" y="590.50" width="9.5" height="9.5" fill="#c3e4f0"/>
<rect x="130.75" y="590.50" width="9.5" height="9.5" fill="#c6e6f0"/>
<rect x="141.30" y="590.50" width="9.5" height="9.5" fill="#fffefb"/>
<rect x="151.85" y="590.50" width="9.5" height="9.5" fill="#fffaeb"/>
<rect x="162.40" y="590.50" width="9.5" height="9.5" fill="#fee9b1"/>
<text x="124.95" y="598.10" font-size="11.5" text-anchor="middle" class="st" transform="rotate(0.035,124.95,598.10)">*</text>
<text x="135.50" y="598.10" font-size="11.5" text-anchor="middle" class="st" transform="rotate(0.035,135.50,598.10)">*</text>
<text x="174.50" y="598.65" font-size="9.78" transform="rotate(0.035,174.50,598.65)">COG0457 FOG: TPR repeat</text>
<rect x="99.10" y="601.05" width="9.5" height="9.5" fill="#fafdfe"/>
<rect x="109.65" y="601.05" width="9.5" height="9.5" fill="#dcf1f7"/>
<rect x="120.20" y="601.05" width="9.5" height="9.5" fill="#5381ba"/>
<rect x="130.75" y="601.05" width="9.5" height="9.5" fill="#4251a3"/>
<rect x="141.30" y="601.05" width="9.5" height="9.5" fill="#fee49d"/>
<rect x="151.85" y="601.05" width="9.5" height="9.5" fill="#fff4d8"/>
<rect x="162.40" y="601.05" width="9.5" height="9.5" fill="#fed98e"/>
<text x="124.95" y="608.65" font-size="11.5" text-anchor="middle" class="st" transform="rotate(0.035,124.95,608.65)">*</text>
<text x="135.50" y="608.65" font-size="11.5" text-anchor="middle" class="st" transform="rotate(0.035,135.50,608.65)">*</text>
<text x="174.50" y="609.20" font-size="9.78" transform="rotate(0.035,174.50,609.20)">COG0790 FOG: TPR repeat, SEL1 subfamily</text>
<text transform="translate(107.25,613.00) rotate(-90)" font-size="9.95" text-anchor="end">C vs T0</text>
<text transform="translate(117.80,613.00) rotate(-90)" font-size="9.95" text-anchor="end">A vs C</text>
<text transform="translate(128.35,613.00) rotate(-90)" font-size="9.95" text-anchor="end">W vs C</text>
<text transform="translate(138.90,613.00) rotate(-90)" font-size="9.95" text-anchor="end">AW vs C</text>
<text transform="translate(149.45,613.00) rotate(-90)" font-size="9.95" text-anchor="end">PA vs A</text>
<text transform="translate(160.00,613.00) rotate(-90)" font-size="9.95" text-anchor="end">PW vs W</text>
<text transform="translate(170.55,613.00) rotate(-90)" font-size="9.95" text-anchor="end">PAW vs AW</text>
<text x="66.76" y="36.05" font-size="9.7" text-anchor="middle" transform="rotate(0.035,66.76,36.05)">F0F1-type</text>
<text x="66.76" y="47.65" font-size="9.7" text-anchor="middle" transform="rotate(0.035,66.76,47.65)">ATP synthase</text>
<path d="M99.89999999999999,4.50 H98.3 V73.79 H99.89999999999999" fill="none" stroke="#6a6a6a" stroke-width="1.0"/>
<text x="96.50" y="105.24" font-size="9.7" text-anchor="end" transform="rotate(0.035,96.50,105.24)">Protein chaperones</text>
<path d="M99.89999999999999,78.45 H98.3 V126.61 H99.89999999999999" fill="none" stroke="#6a6a6a" stroke-width="1.0"/>
<text x="96.50" y="142.22" font-size="9.7" text-anchor="end" transform="rotate(0.035,96.50,142.22)">Transcription initiation</text>
<path d="M99.89999999999999,131.28 H98.3 V147.75 H99.89999999999999" fill="none" stroke="#6a6a6a" stroke-width="1.0"/>
<text x="96.50" y="168.63" font-size="9.7" text-anchor="end" transform="rotate(0.035,96.50,168.63)">Translation elongation</text>
<path d="M99.89999999999999,152.41 H98.3 V179.44 H99.89999999999999" fill="none" stroke="#6a6a6a" stroke-width="1.0"/>
<text x="96.50" y="205.61" font-size="9.7" text-anchor="end" transform="rotate(0.035,96.50,205.61)">Oxidative stress</text>
<path d="M99.89999999999999,184.10 H98.3 V221.70 H99.89999999999999" fill="none" stroke="#6a6a6a" stroke-width="1.0"/>
<text x="51.75" y="242.07" font-size="9.7" text-anchor="middle" transform="rotate(0.035,51.75,242.07)">Thioredoxin-disulfide</text>
<text x="46.75" y="253.67" font-size="9.7" text-anchor="middle" transform="rotate(0.035,46.75,253.67)">reductase</text>
<path d="M99.89999999999999,226.36 H98.3 V263.96 H99.89999999999999" fill="none" stroke="#6a6a6a" stroke-width="1.0"/>
<text x="96.50" y="327.11" font-size="9.7" text-anchor="end" transform="rotate(0.035,96.50,327.11)">Flagellar motility</text>
<path d="M99.89999999999999,268.62 H98.3 V380.17 H99.89999999999999" fill="none" stroke="#6a6a6a" stroke-width="1.0"/>
<text x="59.03" y="405.83" font-size="9.7" text-anchor="middle" transform="rotate(0.035,59.03,405.83)">Type VI secretion</text>
<text x="58.73" y="417.43" font-size="9.7" text-anchor="middle" transform="rotate(0.035,58.73,417.43)">system</text>
<path d="M99.89999999999999,384.84 H98.3 V433.00 H99.89999999999999" fill="none" stroke="#6a6a6a" stroke-width="1.0"/>
<text x="96.50" y="443.32" font-size="9.7" text-anchor="end" transform="rotate(0.035,96.50,443.32)">Chv regulatory system</text>
<path d="M97.89999999999999,440.41 H100.0" fill="none" stroke="#6a6a6a" stroke-width="1.0"/>
<text x="56.87" y="469.22" font-size="9.7" text-anchor="middle" transform="rotate(0.035,56.87,469.22)">Widespread</text>
<text x="56.87" y="480.82" font-size="9.7" text-anchor="middle" transform="rotate(0.035,56.87,480.82)">colonization island</text>
<path d="M99.89999999999999,448.23 H98.3 V496.39 H99.89999999999999" fill="none" stroke="#6a6a6a" stroke-width="1.0"/>
<text x="96.50" y="506.71" font-size="9.7" text-anchor="end" transform="rotate(0.035,96.50,506.71)">Quorum sensing</text>
<path d="M97.89999999999999,503.80 H100.0" fill="none" stroke="#6a6a6a" stroke-width="1.0"/>
<text x="96.50" y="522.56" font-size="9.7" text-anchor="end" transform="rotate(0.035,96.50,522.56)">Glucans synthesis</text>
<path d="M99.89999999999999,511.62 H98.3 V528.08 H99.89999999999999" fill="none" stroke="#6a6a6a" stroke-width="1.0"/>
<text x="472.00" y="58.01" font-size="8.97" text-anchor="end" class="gb" transform="rotate(0.035,472.00,58.01)">DNA repair, bacterial</text>
<path d="M475.15000000000003,5.00 H473.55 V106.03 H475.15000000000003" fill="none" stroke="#000" stroke-width="0.9"/>
<text x="472.00" y="126.71" font-size="8.97" text-anchor="end" class="gb" transform="rotate(0.035,472.00,126.71)">CRISPRs</text>
<path d="M475.15000000000003,110.70 H473.55 V137.74 H475.15000000000003" fill="none" stroke="#000" stroke-width="0.9"/>
<text x="435.86" y="152.92" font-size="8.97" text-anchor="middle" class="gb" transform="rotate(0.035,435.86,152.92)">Type I Restriction-</text>
<text x="435.86" y="163.92" font-size="8.97" text-anchor="middle" class="gb" transform="rotate(0.035,435.86,163.92)">Modification</text>
<path d="M475.15000000000003,142.41 H473.55 V169.45 H475.15000000000003" fill="none" stroke="#000" stroke-width="0.9"/>
<text x="472.00" y="179.56" font-size="8.97" text-anchor="end" class="gb" transform="rotate(0.035,472.00,179.56)">Ammonia assimilation</text>
<path d="M473.15000000000003,176.87 H475.25" fill="none" stroke="#000" stroke-width="0.9"/>
<text x="472.00" y="200.70" font-size="8.97" text-anchor="end" class="gb" transform="rotate(0.035,472.00,200.70)">Creatine and creatinine degradation</text>
<path d="M475.15000000000003,184.69 H473.55 V211.73 H475.15000000000003" fill="none" stroke="#000" stroke-width="0.9"/>
<text x="472.00" y="221.84" font-size="8.97" text-anchor="end" class="gb" transform="rotate(0.035,472.00,221.84)">Coenzyme B12 biosynthesis</text>
<path d="M473.15000000000003,219.15 H475.25" fill="none" stroke="#000" stroke-width="0.9"/>
<text x="472.00" y="248.27" font-size="8.97" text-anchor="end" class="gb" transform="rotate(0.035,472.00,248.27)">Methionine biosynthesis</text>
<path d="M475.15000000000003,226.97 H473.55 V264.58 H475.15000000000003" fill="none" stroke="#000" stroke-width="0.9"/>
<text x="472.00" y="279.98" font-size="8.97" text-anchor="end" class="gb" transform="rotate(0.035,472.00,279.98)">Tryptophan synthesis</text>
<path d="M475.15000000000003,269.25 H473.55 V285.72 H475.15000000000003" fill="none" stroke="#000" stroke-width="0.9"/>
<text x="471.00" y="301.12" font-size="8.97" text-anchor="end" class="gb" transform="rotate(0.035,471.00,301.12)">TRAP family transporter</text>
<path d="M475.15000000000003,290.39 H473.55 V306.86 H475.15000000000003" fill="none" stroke="#000" stroke-width="0.9"/>
<text x="470.50" y="316.97" font-size="8.97" text-anchor="end" class="gb" transform="rotate(0.035,470.50,316.97)">Tricarboxylate transporter</text>
<path d="M473.15000000000003,314.28 H475.25" fill="none" stroke="#000" stroke-width="0.9"/>
<text x="472.00" y="464.95" font-size="8.97" text-anchor="end" class="gb" transform="rotate(0.035,472.00,464.95)">ABC transporter</text>
<path d="M475.15000000000003,322.10 H473.55 V602.82 H475.15000000000003" fill="none" stroke="#000" stroke-width="0.9"/>
<defs><linearGradient id="ga" x1="0" x2="1" y1="0" y2="0"><stop offset="0%" stop-color="#3d429b"/><stop offset="10%" stop-color="#507db8"/><stop offset="20%" stop-color="#7cb2d4"/><stop offset="30%" stop-color="#b0dbea"/><stop offset="40%" stop-color="#e2f4f8"/><stop offset="50%" stop-color="#ffffff"/><stop offset="60%" stop-color="#fee297"/><stop offset="70%" stop-color="#fdb36a"/><stop offset="80%" stop-color="#f5764e"/><stop offset="90%" stop-color="#d93c34"/><stop offset="100%" stop-color="#aa0f33"/></linearGradient></defs>
<rect x="192" y="553" width="161.8" height="11.5" fill="url(#ga)"/>
<text x="272.60" y="548.50" font-size="11.3" text-anchor="middle" transform="rotate(0.035,272.60,548.50)">log<tspan font-size="7" dy="2.2">2</tspan><tspan dy="-2.2"> fold change</tspan></text>
<text x="192.00" y="574.20" font-size="11" text-anchor="middle" transform="rotate(0.035,192.00,574.20)">-7</text>
<text x="232.45" y="574.20" font-size="11" text-anchor="middle" transform="rotate(0.035,232.45,574.20)">-3.5</text>
<text x="272.90" y="574.20" font-size="11" text-anchor="middle" transform="rotate(0.035,272.90,574.20)">0</text>
<text x="313.35" y="574.20" font-size="11" text-anchor="middle" transform="rotate(0.035,313.35,574.20)">3.5</text>
<text x="353.80" y="574.20" font-size="11" text-anchor="middle" transform="rotate(0.035,353.80,574.20)">7</text>
<defs><linearGradient id="gb" x1="0" x2="1" y1="0" y2="0"><stop offset="0%" stop-color="#3d429b"/><stop offset="10%" stop-color="#507db8"/><stop offset="20%" stop-color="#7cb2d4"/><stop offset="30%" stop-color="#b0dbea"/><stop offset="40%" stop-color="#e2f4f8"/><stop offset="50%" stop-color="#ffffff"/><stop offset="60%" stop-color="#fee297"/><stop offset="70%" stop-color="#fdb36a"/><stop offset="80%" stop-color="#f5764e"/><stop offset="90%" stop-color="#d93c34"/><stop offset="100%" stop-color="#aa0f33"/></linearGradient></defs>
<rect x="573.9" y="626.7" width="161.70000000000005" height="11.0" fill="url(#gb)"/>
<text x="654.45" y="622.50" font-size="11.3" text-anchor="middle" transform="rotate(0.035,654.45,622.50)">log<tspan font-size="7" dy="2.2">2</tspan><tspan dy="-2.2"> fold change</tspan></text>
<text x="573.90" y="648.80" font-size="11" text-anchor="middle" transform="rotate(0.035,573.90,648.80)">-4</text>
<text x="614.33" y="648.80" font-size="11" text-anchor="middle" transform="rotate(0.035,614.33,648.80)">-2</text>
<text x="654.75" y="648.80" font-size="11" text-anchor="middle" transform="rotate(0.035,654.75,648.80)">0</text>
<text x="695.17" y="648.80" font-size="11" text-anchor="middle" transform="rotate(0.035,695.17,648.80)">2</text>
<text x="735.60" y="648.80" font-size="11" text-anchor="middle" transform="rotate(0.035,735.60,648.80)">4</text>
<defs><linearGradient id="gc" x1="0" x2="1" y1="0" y2="0"><stop offset="0%" stop-color="#3d429b"/><stop offset="10%" stop-color="#507db8"/><stop offset="20%" stop-color="#7cb2d4"/><stop offset="30%" stop-color="#b0dbea"/><stop offset="40%" stop-color="#e2f4f8"/><stop offset="50%" stop-color="#ffffff"/><stop offset="60%" stop-color="#fee297"/><stop offset="70%" stop-color="#fdb36a"/><stop offset="80%" stop-color="#f5764e"/><stop offset="90%" stop-color="#d93c34"/><stop offset="100%" stop-color="#aa0f33"/></linearGradient></defs>
<rect x="192" y="633.4" width="161.8" height="11.0" fill="url(#gc)"/>
<text x="272.60" y="629.00" font-size="11.3" text-anchor="middle" transform="rotate(0.035,272.60,629.00)">log<tspan font-size="7" dy="2.2">2</tspan><tspan dy="-2.2"> fold change</tspan></text>
<text x="192.00" y="655.50" font-size="11" text-anchor="middle" transform="rotate(0.035,192.00,655.50)">-4</text>
<text x="232.45" y="655.50" font-size="11" text-anchor="middle" transform="rotate(0.035,232.45,655.50)">-2</text>
<text x="272.90" y="655.50" font-size="11" text-anchor="middle" transform="rotate(0.035,272.90,655.50)">0</text>
<text x="313.35" y="655.50" font-size="11" text-anchor="middle" transform="rotate(0.035,313.35,655.50)">2</text>
<text x="353.80" y="655.50" font-size="11" text-anchor="middle" transform="rotate(0.035,353.80,655.50)">4</text>
<text x="41.30" y="15.90" font-size="16" transform="rotate(0.035,41.30,15.90)">a<tspan dx="1.4">)</tspan></text>
<text x="423.00" y="15.90" font-size="16" transform="rotate(0.035,423.00,15.90)">b<tspan dx="1.2">)</tspan></text>
<text x="42.00" y="602.80" font-size="16" transform="rotate(0.035,42.00,602.80)">c<tspan dx="1.0">)</tspan></text>
</svg>
</body></html>
